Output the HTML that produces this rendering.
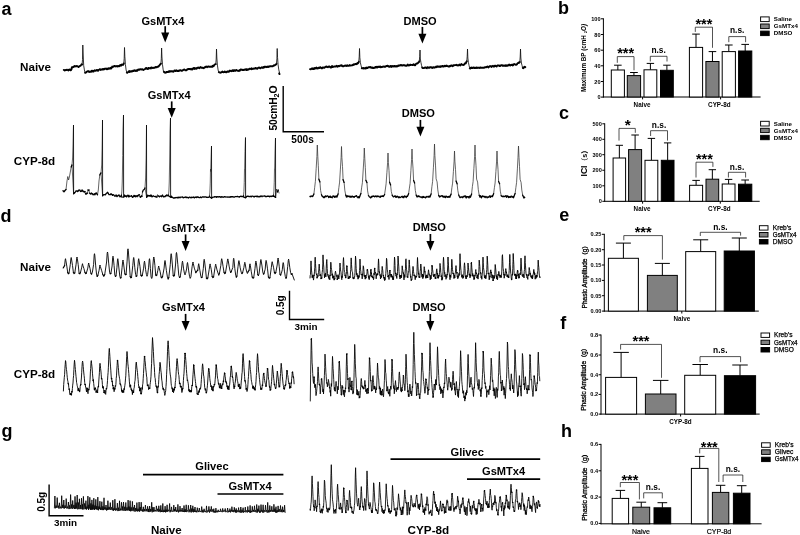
<!DOCTYPE html>
<html lang="en"><head><meta charset="utf-8"><title>Figure</title>
<style>html,body{margin:0;padding:0;background:#fff}svg{display:block}text{font-family:"Liberation Sans", Arial, sans-serif;fill:#000}</style></head><body>
<svg width="800" height="535" viewBox="0 0 800 535">
<rect width="800" height="535" fill="#fff"/>
<text x="1.5" y="14.6" font-size="18" font-weight="bold" text-anchor="start">a</text>
<text x="558.1" y="13.9" font-size="18" font-weight="bold" text-anchor="start">b</text>
<text x="559" y="118.8" font-size="18" font-weight="bold" text-anchor="start">c</text>
<text x="0.5" y="221.7" font-size="18" font-weight="bold" text-anchor="start">d</text>
<text x="559.3" y="221.2" font-size="18" font-weight="bold" text-anchor="start">e</text>
<text x="560.3" y="329.4" font-size="18" font-weight="bold" text-anchor="start">f</text>
<text x="1.5" y="437.1" font-size="18" font-weight="bold" text-anchor="start">g</text>
<text x="561.1" y="436.8" font-size="18" font-weight="bold" text-anchor="start">h</text>
<text x="20.0" y="71.1" font-size="11.65" font-weight="bold" text-anchor="start">Naive</text>
<text x="13.8" y="165.3" font-size="11.65" font-weight="bold" text-anchor="start">CYP-8d</text>
<text x="141.4" y="24.9" font-size="11.05" font-weight="bold" text-anchor="start">GsMTx4</text>
<line x1="165.2" y1="26.2" x2="165.2" y2="33.6" stroke="#000" stroke-width="1.7" stroke-linecap="butt"/>
<polygon points="161.20,32.60 169.20,32.60 165.2,42.4" fill="#000"/>
<text x="147.7" y="98.9" font-size="11.05" font-weight="bold" text-anchor="start">GsMTx4</text>
<line x1="171.7" y1="101.4" x2="171.7" y2="109.0" stroke="#000" stroke-width="1.7" stroke-linecap="butt"/>
<polygon points="167.70,108.00 175.70,108.00 171.7,117.8" fill="#000"/>
<text x="403.5" y="24.9" font-size="11.05" font-weight="bold" text-anchor="start">DMSO</text>
<line x1="422.4" y1="26.9" x2="422.4" y2="34.7" stroke="#000" stroke-width="1.7" stroke-linecap="butt"/>
<polygon points="418.40,33.70 426.40,33.70 422.4,43.5" fill="#000"/>
<text x="401.8" y="117.1" font-size="11.05" font-weight="bold" text-anchor="start">DMSO</text>
<line x1="420.4" y1="119.9" x2="420.4" y2="127.7" stroke="#000" stroke-width="1.7" stroke-linecap="butt"/>
<polygon points="416.40,126.70 424.40,126.70 420.4,136.5" fill="#000"/>
<polyline points="283.2,86 283.2,131.7 324,131.7" fill="none" stroke="#000" stroke-width="1.4"/>
<text x="277" y="130.5" font-size="10.4" font-weight="bold" text-anchor="start" transform="rotate(-90 277 130.5)" letter-spacing="-0.2">50cmH<tspan font-size="7.2" dy="2">2</tspan><tspan dy="-2">O</tspan></text>
<text x="291.3" y="142.7" font-size="10.1" font-weight="bold" text-anchor="start">500s</text>
<path d="M63.8 69.9 L64.3 70.1 L64.8 70.5 L65.3 70.1 L65.8 70.0 L66.3 70.1 L66.8 69.6 L67.4 69.9 L67.9 70.1 L68.4 70.4 L68.9 69.6 L69.4 69.6 L69.9 69.4 L70.4 70.2 L70.9 70.3 L71.4 69.5 L71.9 67.2 L72.4 67.4 L72.9 67.1 L73.5 67.0 L74.0 66.4 L74.5 66.0 L75.0 66.5 L75.5 66.1 L76.0 66.1 L76.5 66.2 L77.0 66.0 L77.5 66.4 L78.0 66.5 L78.5 67.0 L79.0 66.6 L79.6 66.2 L80.1 65.8 L80.6 65.6 L81.1 65.0 L81.6 64.3 L82.1 64.6 M85.1 72.7 L85.6 72.7 L86.1 72.4 L86.6 71.8 L87.1 71.5 L87.6 71.4 L88.1 71.1 L88.6 71.8 L89.1 71.5 L89.6 71.9 L90.1 71.4 L90.6 71.9 L91.1 71.9 L91.6 70.8 L92.1 70.6 L92.6 71.4 L93.1 71.0 L93.6 71.5 L94.1 70.9 L94.6 70.2 L95.2 70.7 L95.7 70.9 L96.2 70.3 L96.7 69.9 L97.2 70.0 L97.7 70.7 L98.2 70.7 L98.7 69.8 L99.2 69.6 L99.7 69.3 L100.2 69.2 L100.7 69.9 L101.2 69.4 L101.7 69.6 L102.2 69.5 L102.7 69.1 L103.2 69.6 L103.7 68.9 L104.2 69.3 L104.7 68.7 L105.2 68.8 L105.7 68.6 L106.2 68.5 L106.7 69.3 L107.2 69.2 L107.7 68.6 L108.2 69.0 L108.7 68.3 L109.2 68.2 L109.7 68.7 L110.2 68.5 L110.7 67.7 L111.2 68.5 L111.7 67.8 L112.2 66.6 L112.7 67.1 L113.2 66.7 L113.7 66.5 L114.3 66.0 L114.8 65.9 L115.3 66.4 L115.8 66.1 L116.3 66.3 L116.8 66.1 L117.3 66.0 L117.8 66.6 L118.3 66.1 L118.8 66.0 L119.3 66.3 L119.8 65.5 L120.3 65.1 L120.8 65.7 L121.3 65.5 L121.8 64.5 L122.3 64.8 L122.8 64.9 L123.3 64.8 L123.8 63.4 M126.8 72.6 L127.3 72.7 L127.8 72.3 L128.3 71.9 L128.8 71.3 L129.3 71.0 L129.8 72.0 L130.3 71.3 L130.8 71.6 L131.3 71.1 L131.8 71.6 L132.3 71.4 L132.8 70.9 L133.3 70.6 L133.8 71.1 L134.3 70.4 L134.8 70.3 L135.3 70.6 L135.8 71.0 L136.3 70.8 L136.8 70.2 L137.3 70.8 L137.8 70.0 L138.3 69.5 L138.8 69.6 L139.3 69.8 L139.8 69.3 L140.3 69.2 L140.8 69.4 L141.3 69.6 L141.8 69.1 L142.3 69.1 L142.8 69.7 L143.3 70.0 L143.8 69.6 L144.4 69.4 L144.9 69.2 L145.4 68.5 L145.9 68.1 L146.4 67.9 L146.9 68.9 L147.4 68.9 L147.9 69.1 L148.4 67.9 L148.9 68.3 L149.4 68.1 L149.9 68.3 L150.4 67.8 L150.9 68.4 L151.4 67.4 L151.9 67.6 L152.4 67.9 L152.9 68.1 L153.4 67.9 L153.9 67.7 L154.4 67.7 L154.9 67.8 L155.4 67.0 L155.9 67.1 L156.4 67.4 L156.9 67.3 L157.4 66.6 L157.9 66.7 L158.4 66.6 L158.9 65.9 L159.4 65.5 L159.9 64.7 L160.4 64.3 L160.9 63.7 M163.9 71.7 L164.4 72.2 L164.9 72.7 L165.4 72.7 L165.9 72.5 L166.4 72.0 L166.9 72.2 L167.4 72.0 L167.9 71.8 L168.4 72.1 L168.9 71.3 L169.4 71.8 L169.9 71.0 L170.5 71.5 L171.0 71.4 L171.5 71.1 L172.0 71.5 L172.5 71.3 L173.0 71.4 L173.5 71.7 L174.0 71.0 L174.5 70.4 L175.0 70.6 L175.5 71.0 L176.0 70.5 L176.5 70.3 L177.0 71.1 L177.5 71.0 L178.0 70.7 L178.5 71.1 L179.0 70.5 L179.5 70.7 L180.0 70.1 L180.5 70.2 L181.0 70.6 L181.5 70.8 L182.0 70.8 L182.5 70.2 L183.0 70.2 L183.6 69.8 L184.1 69.4 L184.6 69.7 L185.1 70.2 L185.6 70.3 L186.1 70.1 L186.6 70.3 L187.1 69.5 L187.6 69.1 L188.1 69.3 L188.6 69.0 L189.1 68.9 L189.6 69.0 L190.1 69.3 L190.6 69.1 L191.1 68.8 L191.6 69.4 L192.1 69.6 L192.6 69.0 L193.1 68.3 L193.6 68.0 L194.1 68.9 L194.6 68.1 L195.1 68.7 L195.6 68.6 L196.1 68.2 L196.7 68.7 L197.2 67.8 L197.7 67.6 L198.2 67.9 L198.7 67.5 L199.2 68.3 L199.7 67.7 L200.2 67.4 L200.7 67.1 L201.2 67.7 L201.7 67.6 L202.2 67.8 L202.7 67.8 L203.2 68.0 L203.7 68.2 L204.2 67.8 L204.7 67.1 L205.2 67.2 L205.7 66.8 L206.2 66.4 L206.7 66.8 L207.2 67.2 L207.7 66.6 L208.2 66.5 L208.7 66.5 L209.2 66.9 L209.8 66.8 L210.3 66.8 L210.8 66.9 L211.3 66.5 L211.8 66.8 L212.3 66.9 L212.8 65.8 L213.3 66.3 L213.8 65.9 L214.3 64.8 L214.8 64.5 L215.3 64.2 L215.8 64.1 M218.8 72.1 L219.3 72.2 L219.8 72.6 L220.3 72.6 L220.8 72.7 L221.3 72.2 L221.8 72.2 L222.3 71.6 L222.8 72.0 L223.3 72.3 L223.8 72.1 L224.3 72.1 L224.8 71.4 L225.3 72.0 L225.8 72.3 L226.3 72.3 L226.8 71.7 L227.3 71.9 L227.8 71.3 L228.3 71.8 L228.8 71.8 L229.3 71.2 L229.8 70.6 L230.3 70.9 L230.8 71.0 L231.3 71.3 L231.8 71.0 L232.3 70.3 L232.8 71.1 L233.4 70.3 L233.9 71.0 L234.4 70.3 L234.9 70.3 L235.4 70.8 L235.9 70.2 L236.4 69.9 L236.9 70.3 L237.4 70.6 L237.9 70.8 L238.4 70.6 L238.9 70.9 L239.4 70.3 L239.9 70.7 L240.4 69.7 L240.9 69.5 L241.4 69.8 L241.9 69.6 L242.4 70.0 L242.9 70.0 L243.4 69.8 L243.9 70.1 L244.4 69.8 L244.9 69.4 L245.4 69.3 L245.9 69.8 L246.4 70.0 L246.9 69.1 L247.4 69.6 L247.9 69.9 L248.4 69.4 L248.9 69.3 L249.4 68.7 L249.9 68.9 L250.4 68.9 L250.9 69.0 L251.4 68.3 L251.9 69.2 L252.4 68.8 L252.9 68.6 L253.4 68.9 L253.9 68.7 L254.4 68.5 L254.9 68.7 L255.4 67.9 L255.9 68.2 L256.4 68.1 L256.9 68.7 L257.4 68.8 L257.9 68.0 L258.4 67.9 L258.9 67.5 L259.4 67.7 L259.9 68.2 L260.4 68.4 L260.9 67.9 L261.4 67.5 L261.9 67.2 L262.5 67.6 L263.0 68.0 L263.5 67.1 L264.0 67.6 L264.5 66.8 L265.0 66.7 L265.5 66.7 L266.0 67.2 L266.5 66.9 L267.0 66.8 L267.5 67.0 L268.0 66.4 L268.5 67.0 L269.0 66.4 L269.5 66.6 L270.0 66.3 L270.5 66.1 L271.0 66.4 L271.5 66.4 L272.0 66.2 L272.5 66.2 L273.0 66.2 L273.5 65.6 L274.0 65.3 L274.5 65.5 L275.0 65.2 L275.5 64.7 L276.0 64.6 L276.5 63.8 M279.5 74.1 L279.2 73.3" fill="none" stroke="#000" stroke-width="1.9" stroke-linejoin="round" stroke-linecap="round"/>
<path d="M82.10 64.6 L82.50 59.6 L82.75 47.0 L82.80 45.0 L83.15 54.0 L83.70 65.6 L84.40 69.9 L85.10 72.7 M123.80 63.4 L124.20 58.4 L124.45 49.5 L124.50 47.5 L124.85 56.5 L125.40 64.4 L126.10 69.9 L126.80 72.7 M160.90 63.7 L161.30 58.7 L161.55 50.0 L161.60 48.0 L161.95 57.0 L162.50 64.7 L163.20 69.9 L163.90 72.7 M215.80 64.1 L216.20 59.1 L216.45 51.0 L216.50 49.0 L216.85 58.0 L217.40 65.1 L218.10 69.9 L218.80 72.7 M276.50 63.8 L276.90 58.8 L277.15 50.5 L277.20 48.5 L277.55 57.5 L278.10 64.8 L278.80 69.9 L279.50 72.7" fill="none" stroke="#111" stroke-width="0.85" stroke-linejoin="round" stroke-linecap="round"/>
<path d="M310.0 69.1 L310.5 69.2 L311.0 69.3 L311.5 68.6 L312.0 68.4 L312.5 69.0 L313.0 68.3 L313.5 69.0 L314.0 69.1 L314.5 68.1 L315.0 67.9 L315.5 68.4 L316.0 68.0 L316.5 67.6 L317.0 68.4 L317.5 68.1 L318.0 68.4 L318.6 67.6 L319.1 67.7 L319.6 68.1 L320.1 67.3 L320.6 67.3 L321.1 67.8 L321.6 68.3 L322.1 68.4 L322.6 67.4 L323.1 67.5 L323.6 67.8 L324.1 67.6 L324.6 67.7 L325.1 67.1 L325.6 66.7 L326.1 66.6 L326.6 66.5 L327.1 67.0 L327.6 67.1 L328.1 67.2 L328.6 66.7 L329.1 66.5 L329.6 66.5 L330.1 67.2 L330.6 67.6 L331.1 67.6 L331.6 66.5 L332.1 66.1 L332.6 67.1 L333.1 66.7 L333.6 66.9 L334.1 66.4 L334.7 66.4 L335.2 66.5 L335.7 66.3 L336.2 66.5 L336.7 65.8 L337.2 66.4 L337.7 66.7 L338.2 65.9 L338.7 66.0 L339.2 66.3 L339.7 66.0 L340.2 65.6 L340.7 65.4 L341.2 65.8 L341.7 65.2 L342.2 66.1 L342.7 66.2 L343.2 66.1 L343.7 66.2 L344.2 65.9 L344.7 65.6 L345.2 65.6 L345.7 65.5 L346.2 66.0 L346.7 65.9 L347.2 65.2 L347.7 65.8 L348.2 65.7 L348.7 65.7 L349.2 65.7 L349.7 65.1 L350.2 65.6 L350.8 65.6 L351.3 65.4 L351.8 65.4 L352.3 65.3 L352.8 64.8 L353.3 65.1 L353.8 64.3 L354.3 64.4 L354.8 64.5 L355.3 63.9 L355.8 64.0 L356.3 64.2 L356.8 64.0 L357.3 63.1 L357.8 63.4 L358.3 62.8 L358.8 61.8 M361.8 68.3 L362.3 68.2 L362.8 68.1 L363.3 67.9 L363.8 68.6 L364.3 68.3 L364.8 68.3 L365.3 68.3 L365.8 68.6 L366.3 67.5 L366.8 67.8 L367.3 68.1 L367.8 67.5 L368.3 67.5 L368.8 67.1 L369.3 67.1 L369.8 67.3 L370.3 67.0 L370.8 67.1 L371.3 67.9 L371.8 67.7 L372.3 67.5 L372.8 68.0 L373.3 67.7 L373.8 68.1 L374.3 67.7 L374.8 67.8 L375.3 66.9 L375.8 67.3 L376.3 67.5 L376.8 66.7 L377.3 67.5 L377.8 66.8 L378.3 67.0 L378.8 66.6 L379.3 66.9 L379.8 67.1 L380.3 66.4 L380.8 67.3 L381.3 66.9 L381.8 66.9 L382.3 67.0 L382.8 66.7 L383.3 66.5 L383.8 66.8 L384.3 66.8 L384.8 66.4 L385.3 66.8 L385.8 66.4 L386.3 65.9 L386.8 66.0 L387.3 65.8 L387.8 65.8 L388.3 66.6 L388.8 66.3 L389.3 66.8 L389.8 66.8 L390.3 65.9 L390.8 66.7 L391.3 66.9 L391.8 65.9 L392.3 66.6 L392.8 66.2 L393.3 66.1 L393.8 66.6 L394.3 65.9 L394.8 66.0 L395.3 66.5 L395.8 66.4 L396.3 66.0 L396.8 66.5 L397.3 66.4 L397.8 66.1 L398.3 65.4 L398.8 65.7 L399.3 65.6 L399.8 65.3 L400.3 64.9 L400.8 65.4 L401.3 65.0 L401.8 65.3 L402.3 65.6 L402.8 65.4 L403.3 65.1 L403.8 65.4 L404.3 65.2 L404.8 65.6 L405.3 65.4 L405.8 65.9 L406.3 65.9 L406.8 65.7 L407.3 64.9 L407.8 64.6 L408.3 65.4 L408.8 65.5 L409.3 65.3 L409.8 64.8 L410.3 64.6 L410.8 65.0 L411.3 64.9 L411.8 64.9 L412.3 65.0 L412.8 65.1 L413.3 64.4 L413.8 64.3 L414.3 65.1 L414.8 65.2 L415.3 65.2 L415.8 64.1 L416.3 63.6 L416.8 63.5 L417.3 63.5 L417.8 63.4 L418.3 62.5 L418.8 62.4 L419.3 61.3 M422.3 67.5 L422.8 68.1 L423.3 68.1 L423.8 68.1 L424.3 67.8 L424.8 67.8 L425.3 67.5 L425.8 67.5 L426.3 68.0 L426.8 68.2 L427.3 67.3 L427.8 67.1 L428.3 67.8 L428.8 67.8 L429.3 67.9 L429.8 67.3 L430.3 67.3 L430.8 67.1 L431.3 67.7 L431.8 67.3 L432.3 67.5 L432.8 67.9 L433.3 67.2 L433.8 67.2 L434.3 67.5 L434.8 67.7 L435.3 67.1 L435.8 66.9 L436.3 66.4 L436.8 67.2 L437.3 66.5 L437.8 66.2 L438.3 66.7 L438.8 66.7 L439.3 66.9 L439.8 66.5 L440.3 66.9 L440.8 66.2 L441.3 66.1 L441.8 66.6 L442.3 66.0 L442.8 66.0 L443.3 66.5 L443.8 66.6 L444.3 66.1 L444.8 65.7 L445.3 65.9 L445.8 66.3 L446.3 66.0 L446.8 65.6 L447.3 66.1 L447.8 66.1 L448.3 66.5 L448.8 66.6 L449.3 66.6 L449.8 65.9 L450.3 66.2 L450.8 65.6 L451.3 65.4 L451.8 65.4 L452.3 66.1 L452.8 66.2 L453.3 65.4 L453.8 65.2 L454.3 65.2 L454.8 65.1 L455.3 65.1 L455.8 65.1 L456.3 64.8 L456.8 65.1 L457.3 65.5 L457.8 65.2 L458.3 65.5 L458.8 65.2 L459.3 64.6 L459.8 65.1 L460.3 65.4 L460.8 64.7 L461.3 64.1 L461.8 64.6 L462.3 64.7 L462.8 64.7 L463.3 65.1 L463.8 64.7 L464.3 64.6 L464.8 63.4 L465.3 63.3 L465.8 63.3 L466.3 62.1 L466.8 61.3 M469.8 68.4 L470.3 68.6 L470.8 67.7 L471.3 68.0 L471.8 67.5 L472.3 68.1 L472.8 68.1 L473.3 67.6 L473.8 67.4 L474.3 68.0 L474.9 67.8 L475.4 68.1 L475.9 67.7 L476.4 67.4 L476.9 68.1 L477.4 67.9 L477.9 67.6 L478.4 67.6 L478.9 67.8 L479.4 67.8 L479.9 68.0 L480.4 67.4 L480.9 67.7 L481.4 67.6 L481.9 67.8 L482.4 67.7 L482.9 67.7 L483.4 67.8 L483.9 67.9 L484.4 67.5 L485.0 67.2 L485.5 67.3 L486.0 67.4 L486.5 67.0 L487.0 66.8 L487.5 66.4 L488.0 67.0 L488.5 67.4 L489.0 66.8 L489.5 66.3 L490.0 66.2 L490.5 66.4 L491.0 66.2 L491.5 67.0 L492.0 66.1 L492.5 66.1 L493.0 65.8 L493.5 66.4 L494.0 66.7 L494.5 66.0 L495.1 65.6 L495.6 66.0 L496.1 66.2 L496.6 66.6 L497.1 65.7 L497.6 65.4 L498.1 65.4 L498.6 65.5 L499.1 65.5 L499.6 66.0 L500.1 66.0 L500.6 65.5 L501.1 65.3 L501.6 65.3 L502.1 65.2 L502.6 65.8 L503.1 65.4 L503.6 65.6 L504.1 65.9 L504.6 65.6 L505.2 65.2 L505.7 65.8 L506.2 66.0 L506.7 65.3 L507.2 65.3 L507.7 65.8 L508.2 65.4 L508.7 64.9 L509.2 64.5 L509.7 65.4 L510.2 65.5 L510.7 65.0 L511.2 65.0 L511.7 65.0 L512.2 64.6 L512.7 65.4 L513.2 65.1 L513.7 64.5 L514.2 64.0 L514.7 64.4 L515.3 64.4 L515.8 64.9 L516.3 64.8 L516.8 64.5 L517.3 63.7 L517.8 63.2 L518.3 63.0 L518.8 62.5 L519.3 62.8 L519.8 62.0 M522.8 67.8 L523.3 68.2 L523.8 67.3 L524.3 67.3 L524.8 66.7 L525.3 67.2" fill="none" stroke="#000" stroke-width="1.9" stroke-linejoin="round" stroke-linecap="round"/>
<path d="M358.80 61.8 L359.20 56.8 L359.45 50.5 L359.50 48.5 L359.85 57.5 L360.40 62.8 L361.10 65.7 L361.80 68.5 M419.30 61.3 L419.70 56.3 L419.95 52.0 L420.00 50.0 L420.35 59.0 L420.90 62.3 L421.60 65.7 L422.30 68.5 M466.80 61.3 L467.20 56.3 L467.45 51.0 L467.50 49.0 L467.85 58.0 L468.40 62.3 L469.10 65.7 L469.80 68.5 M519.80 62.0 L520.20 57.0 L520.45 51.0 L520.50 49.0 L520.85 58.0 L521.40 63.0 L522.10 65.7 L522.80 68.5" fill="none" stroke="#111" stroke-width="0.85" stroke-linejoin="round" stroke-linecap="round"/>
<path d="M66.0 189.5 L67.0 181.0 L67.8 176.5 L68.6 180.0 L69.4 177.0 L70.3 172.0 L71.2 167.0 M72.0 165.0 L73.6 193.7 M85.0 191.5 L85.5 193.7 M87.5 193.1 L88.0 190.0 M89.0 190.0 L89.5 193.2 M97.5 194.7 L98.3 190.0 L99.0 181.0 L99.8 175.0 M101.0 173.0 L102.6 195.8 M121.5 195.0 L121.5 196.8 M124.4 196.3 L124.5 195.1 M128.0 195.2 L128.5 196.8 M139.5 194.9 L140.0 196.7 M142.0 196.3 L142.5 192.0 M145.0 188.0 L146.6 197.2 M147.4 196.3 L147.5 195.3 M151.5 195.3 L152.0 196.8 M157.0 197.1 L157.5 194.6 L158.0 196.1 M168.5 195.0 L168.5 195.7 M171.4 196.3 L171.5 197.4 M209.5 196.1 L209.5 196.8 M243.5 195.6 L243.5 196.9 M246.4 196.9 L246.5 196.5 M273.5 195.2 L273.5 195.9 M275.6 197.4 L276.6 189.0 L277.4 192.0 M278.2 190.0 L279.0 193.0" fill="none" stroke="#222" stroke-width="0.7" stroke-linejoin="round" stroke-linecap="round"/>
<path d="M63.0 190.7 L64.0 191.8 L65.0 190.5 L66.0 189.5 M71.2 167.0 L72.0 165.0 M73.6 193.7 L74.4 192.8 L74.5 193.1 L75.0 192.4 L75.5 191.8 L76.0 190.9 L76.5 190.9 L77.0 191.1 L77.5 191.5 L78.0 190.7 L78.5 191.0 L79.0 189.8 L79.5 190.0 L80.0 190.2 L80.5 191.4 L81.0 191.5 L81.5 191.2 L82.0 189.9 L82.5 190.5 L83.0 191.5 L83.5 191.1 L84.0 191.9 L84.5 192.1 L85.0 191.5 M85.5 193.7 L86.0 194.3 L86.5 193.1 L87.0 193.6 L87.5 193.1 M88.0 190.0 L88.5 190.4 L89.0 190.0 M89.5 193.2 L90.0 193.3 L90.5 194.0 L91.0 193.3 L91.5 193.0 L92.0 194.1 L92.5 193.6 L93.0 194.8 L93.5 194.3 L94.0 194.6 L94.5 193.8 L95.0 194.7 L95.5 193.4 L96.0 193.1 L96.5 193.0 L97.0 194.2 L97.5 194.7 M99.8 175.0 L100.5 173.5 L101.0 173.0 M102.6 195.8 L103.4 194.9 L103.5 194.7 L104.0 194.7 L104.5 194.7 L105.0 194.8 L105.5 194.8 L106.0 193.7 L106.5 193.2 L107.0 193.1 L107.5 192.2 L108.0 192.8 L108.5 193.7 L109.0 194.7 L109.5 194.7 L110.0 194.6 L110.5 194.7 L111.0 193.6 L111.5 194.2 L112.0 194.7 L112.5 195.4 L113.0 194.5 L113.5 194.8 L114.0 195.2 L114.5 196.0 L115.0 196.3 L115.5 196.0 L116.0 194.9 L116.5 195.9 L117.0 196.6 L117.5 196.0 L118.0 195.5 L118.5 195.6 L119.0 194.9 L119.5 196.0 L120.0 196.9 L120.5 196.2 L121.0 196.4 L121.5 195.0 M121.5 196.8 L123.6 197.2 L124.4 196.3 M124.5 195.1 L125.0 195.9 L125.5 196.4 L126.0 195.8 L126.5 196.9 L127.0 196.0 L127.5 195.9 L128.0 195.2 M128.5 196.8 L129.0 195.4 L129.5 196.7 L130.0 196.3 L130.5 196.2 L131.0 196.2 L131.5 195.6 L132.0 196.7 L132.5 197.3 L133.0 197.1 L133.5 196.5 L134.0 195.3 L134.5 196.5 L135.0 195.7 L135.5 196.8 L136.0 195.7 L136.5 196.1 L137.0 196.7 L137.5 195.5 L138.0 196.0 L138.5 195.1 L139.0 194.7 L139.5 194.9 M140.0 196.7 L140.5 197.2 L141.0 196.7 L141.5 195.8 L142.0 196.3 M142.5 192.0 L143.3 190.0 L144.2 189.5 L145.0 188.0 M146.6 197.2 L147.4 196.3 M147.5 195.3 L148.0 195.8 L148.5 195.4 L149.0 196.0 L149.5 195.6 L150.0 196.2 L150.5 195.1 L151.0 196.1 L151.5 195.3 M152.0 196.8 L152.5 196.4 L153.0 196.1 L153.5 195.8 L154.0 196.2 L154.5 196.5 L155.0 196.7 L155.5 196.8 L156.0 196.2 L156.5 197.1 L157.0 197.1 M158.0 196.1 L158.5 195.9 L159.0 196.1 L159.5 196.9 L160.0 196.3 L160.5 196.2 L161.0 195.9 L161.5 196.8 L162.0 195.9 L162.5 195.0 L163.0 196.2 L163.5 196.9 L164.0 196.8 L164.5 196.4 L165.0 196.7 L165.5 195.8 L166.0 196.1 L166.5 195.1 L167.0 194.9 L167.5 195.6 L168.0 195.9 L168.5 195.0 M168.5 195.7 L170.6 197.2 L171.4 196.3 M171.5 197.4 L172.0 197.3 L172.5 197.1 L173.0 197.8 L173.5 198.1 L174.0 197.9 L174.5 198.0 L175.0 197.6 L175.5 197.9 L176.0 197.4 L176.5 197.7 L177.0 197.6 L177.5 197.9 L178.0 197.2 L178.5 197.7 L179.0 197.2 L179.5 197.4 L180.0 197.9 L180.5 197.1 L181.0 197.1 L181.5 197.2 L182.0 197.2 L182.5 196.9 L183.0 197.7 L183.5 197.8 L184.0 197.4 L184.5 197.3 L185.0 197.5 L185.5 197.0 L186.0 196.8 L186.5 197.6 L187.0 197.3 L187.5 197.3 L188.0 197.8 L188.5 198.0 L189.0 197.5 L189.5 197.1 L190.0 197.1 L190.5 197.7 L191.0 197.8 L191.5 197.2 L192.0 197.6 L192.5 197.3 L193.0 197.3 L193.5 197.0 L194.0 197.6 L194.5 197.9 L195.0 197.2 L195.5 197.4 L196.0 197.0 L196.5 197.6 L197.0 196.9 L197.5 196.8 L198.0 197.3 L198.5 197.1 L199.0 197.6 L199.5 197.7 L200.0 197.6 L200.5 197.0 L201.0 197.3 L201.5 197.7 L202.0 197.3 L202.5 196.8 L203.0 196.8 L203.5 196.9 L204.0 197.3 L204.5 196.9 L205.0 196.8 L205.5 196.8 L206.0 197.2 L206.5 197.4 L207.0 197.1 L207.5 197.3 L208.0 197.5 L208.5 197.3 L209.0 196.9 L209.5 196.1 M209.5 196.8 L211.6 198.3 L212.4 197.4 L212.5 197.4 L213.0 197.1 L213.5 197.1 L214.0 197.1 L214.5 196.6 L215.0 197.0 L215.5 196.8 L216.0 196.7 L216.5 197.2 L217.0 196.7 L217.5 196.7 L218.0 197.1 L218.5 196.8 L219.0 196.7 L219.5 196.9 L220.0 196.6 L220.5 197.2 L221.0 197.5 L221.5 196.7 L222.0 196.8 L222.5 197.1 L223.0 196.9 L223.5 197.3 L224.0 197.0 L224.5 196.6 L225.0 196.9 L225.5 197.0 L226.0 196.8 L226.5 197.0 L227.0 197.2 L227.5 197.0 L228.0 196.9 L228.5 197.2 L229.0 197.1 L229.5 196.9 L230.0 197.3 L230.5 196.7 L231.0 197.0 L231.5 196.6 L232.0 196.8 L232.5 196.6 L233.0 196.7 L233.5 197.0 L234.0 197.1 L234.5 197.2 L235.0 196.6 L235.5 196.7 L236.0 196.5 L236.5 196.7 L237.0 196.7 L237.5 196.3 L238.0 196.7 L238.5 196.9 L239.0 196.8 L239.5 197.1 L240.0 196.5 L240.5 196.3 L241.0 196.1 L241.5 196.5 L242.0 196.6 L242.5 196.6 L243.0 196.4 L243.5 195.6 M243.5 196.9 L245.6 197.8 L246.4 196.9 M246.5 196.5 L247.0 196.2 L247.5 196.3 L248.0 196.1 L248.5 196.3 L249.0 196.6 L249.5 196.6 L250.0 196.4 L250.5 196.6 L251.0 196.2 L251.5 196.7 L252.0 196.3 L252.5 196.2 L253.0 196.1 L253.5 196.6 L254.0 196.9 L254.5 196.9 L255.0 196.2 L255.5 196.3 L256.0 196.3 L256.5 196.2 L257.0 196.8 L257.5 196.1 L258.0 196.4 L258.5 196.7 L259.0 197.0 L259.5 196.3 L260.0 196.3 L260.5 196.6 L261.0 196.0 L261.5 196.1 L262.0 196.7 L262.5 196.1 L263.0 196.2 L263.5 196.1 L264.0 196.2 L264.5 195.9 L265.0 195.8 L265.5 196.7 L266.0 196.7 L266.5 196.7 L267.0 196.2 L267.5 196.1 L268.0 196.3 L268.5 196.1 L269.0 196.2 L269.5 196.7 L270.0 196.3 L270.5 196.1 L271.0 196.7 L271.5 196.5 L272.0 195.9 L272.5 196.1 L273.0 196.4 L273.5 195.2 M273.5 195.9 L275.6 197.4 M277.4 192.0 L278.2 190.0" fill="none" stroke="#000" stroke-width="1.3" stroke-linejoin="round" stroke-linecap="round"/>
<path d="M72.00 165.0 L72.60 158.0 L73.00 145.0 L73.30 131.0 L73.50 125.0" fill="none" stroke="#333" stroke-width="0.75" stroke-linejoin="round"/>
<path d="M101.00 173.0 L101.70 165.0 L102.10 148.0 L102.40 128.0 L102.50 120.0" fill="none" stroke="#333" stroke-width="0.75" stroke-linejoin="round"/>
<path d="M121.50 195.0 L121.90 191.0 L122.25 182.0 L122.50 168.0 L122.70 155.5 L123.00 129.0 L123.35 118.0 L123.50 115.0" fill="none" stroke="#333" stroke-width="0.75" stroke-linejoin="round"/>
<path d="M145.00 188.0 L145.60 178.0 L146.10 158.0 L146.40 135.0 L146.50 125.0" fill="none" stroke="#333" stroke-width="0.75" stroke-linejoin="round"/>
<path d="M168.50 195.0 L168.90 191.0 L169.25 182.0 L169.50 168.0 L169.70 157.0 L170.00 132.0 L170.35 121.0 L170.50 118.0" fill="none" stroke="#333" stroke-width="0.75" stroke-linejoin="round"/>
<path d="M209.50 196.1 L209.90 192.1 L210.25 183.1 L210.50 169.1 L210.70 171.5 L211.00 160.0 L211.35 149.0 L211.50 146.0" fill="none" stroke="#333" stroke-width="0.75" stroke-linejoin="round"/>
<path d="M243.50 195.6 L243.90 191.6 L244.25 182.6 L244.50 168.6 L244.70 167.1 L245.00 151.5 L245.35 140.5 L245.50 137.5" fill="none" stroke="#333" stroke-width="0.75" stroke-linejoin="round"/>
<path d="M273.50 195.2 L273.90 191.2 L274.25 182.2 L274.50 168.2 L274.70 167.1 L275.00 152.0 L275.35 141.0 L275.50 138.0" fill="none" stroke="#333" stroke-width="0.75" stroke-linejoin="round"/>
<path d="M73.50 125.0 L73.62 193.7" fill="none" stroke="#000" stroke-width="0.85"/>
<path d="M102.50 120.0 L102.62 195.8" fill="none" stroke="#000" stroke-width="0.85"/>
<path d="M123.50 115.0 L123.62 197.2" fill="none" stroke="#000" stroke-width="0.85"/>
<path d="M146.50 125.0 L146.62 197.2" fill="none" stroke="#000" stroke-width="0.85"/>
<path d="M170.50 118.0 L170.62 197.2" fill="none" stroke="#000" stroke-width="0.85"/>
<path d="M211.50 146.0 L211.62 198.3" fill="none" stroke="#000" stroke-width="0.85"/>
<path d="M245.50 137.5 L245.62 197.8" fill="none" stroke="#000" stroke-width="0.85"/>
<path d="M275.50 138.0 L275.62 197.4" fill="none" stroke="#000" stroke-width="0.85"/>
<path d="M313.9 194.0 L314.7 187.3 L315.4 181.3 L316.2 168.3 L316.9 156.4 L317.3 145.0 L317.8 156.4 L318.3 165.7 L318.9 179.2 M319.9 181.9 L320.6 190.4 L321.5 194.8 M330.3 196.1 L330.7 197.4 M332.3 197.7 L332.7 196.2 M333.9 195.9 L334.3 197.2 M336.7 196.2 L336.9 197.1 M338.1 193.9 L338.9 187.4 L339.6 182.1 L340.4 169.1 L341.1 157.6 L341.5 146.5 L341.9 157.6 L342.5 166.6 L343.1 179.7 M344.1 182.4 L344.8 190.2 L345.7 195.0 M346.5 197.0 L346.9 195.8 M359.7 196.5 L359.7 196.4 M360.9 193.5 L361.7 187.2 L362.4 182.7 L363.2 170.0 L363.9 158.7 L364.3 148.0 L364.8 158.7 L365.3 167.5 L365.9 180.3 M366.9 182.6 L367.6 190.9 L368.5 195.7 M384.6 194.5 L385.4 189.0 L386.1 183.8 L386.9 172.7 L387.6 162.6 L388.0 153.0 L388.4 162.6 L389.0 170.5 L389.6 182.2 M390.6 184.9 L391.3 191.5 L392.2 195.2 M403.8 197.6 L404.2 196.2 M407.4 196.1 L407.4 196.5 M408.6 193.7 L409.4 188.1 L410.1 183.3 L410.9 170.5 L411.6 159.5 L412.0 149.0 L412.4 159.5 L413.0 168.1 L413.6 180.5 M414.6 183.0 L415.3 190.4 L416.2 195.1 M425.8 197.7 L426.2 196.4 M429.8 196.2 L429.9 197.0 M431.1 193.9 L431.9 186.7 L432.6 181.4 L433.4 167.8 L434.1 155.6 L434.5 144.0 L434.9 155.6 L435.5 165.1 L436.1 178.8 L437.1 181.9 L437.8 189.9 L438.7 195.4 M445.5 197.6 L445.9 196.2 M449.9 197.2 L449.9 196.6 M451.1 194.1 L451.9 187.7 L452.6 183.1 L453.4 171.6 L454.1 161.1 L454.5 151.0 L454.9 161.1 L455.5 169.3 L456.1 181.1 M457.1 183.8 L457.8 190.4 L458.7 195.0 M462.7 197.6 L463.1 196.3 M466.3 197.9 L466.7 196.5 M469.1 197.9 L469.5 196.3 M470.3 196.2 L470.4 197.2 M471.6 194.0 L472.4 186.5 L473.1 181.6 L473.9 168.3 L474.6 156.4 L475.0 145.0 L475.4 156.4 L476.0 165.7 L476.6 179.1 L477.6 182.1 L478.3 189.7 L479.2 195.3 M480.0 197.1 L480.4 195.8 M481.6 197.8 L482.0 196.4 M490.0 195.9 L490.4 197.3 M492.4 195.7 L492.4 196.7 M493.6 193.7 L494.4 187.7 L495.1 183.0 L495.9 171.6 L496.6 161.1 L497.0 151.0 L497.4 161.1 L498.0 169.3 L498.6 181.5 M499.6 183.7 L500.3 191.1 L501.2 195.7 M506.0 195.7 L506.4 197.2 M513.6 197.7 L513.9 196.5 M515.1 193.6 L515.9 187.4 L516.6 182.3 L517.4 168.9 L518.0 157.2 L518.5 146.0 L519.0 157.2 L519.5 166.3 L520.1 179.3 L521.1 182.5 L521.8 190.1 L522.7 195.2" fill="none" stroke="#333" stroke-width="0.75" stroke-linejoin="round" stroke-linecap="round"/>
<path d="M310.0 196.5 L310.4 196.1 L310.8 196.7 L311.2 196.1 L311.6 196.1 L312.0 196.0 L312.4 196.5 L312.7 196.6 L313.9 194.0 M318.9 179.2 L319.9 181.9 M321.5 194.8 L322.3 196.6 L322.7 196.4 L323.1 196.6 L323.5 197.6 L323.9 197.4 L324.3 197.6 L324.7 196.5 L325.1 196.5 L325.5 195.9 L325.9 196.9 L326.3 196.6 L326.7 196.3 L327.1 195.8 L327.5 195.9 L327.9 196.1 L328.3 196.4 L328.7 197.5 L329.1 197.4 L329.5 196.6 L329.9 196.5 L330.3 196.1 M330.7 197.4 L331.1 196.7 L331.5 197.3 L331.9 197.4 L332.3 197.7 M332.7 196.2 L333.1 196.3 L333.5 196.4 L333.9 195.9 M334.3 197.2 L334.7 196.6 L335.1 197.2 L335.5 197.0 L335.9 196.0 L336.3 196.4 L336.7 196.2 M336.9 197.1 L338.1 193.9 M343.1 179.7 L344.1 182.4 M345.7 195.0 L346.5 197.0 M346.9 195.8 L347.3 195.8 L347.7 196.7 L348.1 195.9 L348.5 196.2 L348.9 196.5 L349.3 196.8 L349.7 196.1 L350.1 197.0 L350.5 196.4 L350.9 197.1 L351.3 197.2 L351.7 196.3 L352.1 196.1 L352.5 196.2 L352.9 197.0 L353.3 196.7 L353.7 196.6 L354.1 197.4 L354.5 196.5 L354.9 196.3 L355.3 196.4 L355.7 196.1 L356.1 195.8 L356.5 195.6 L356.9 196.7 L357.3 196.9 L357.7 197.4 L358.1 197.9 L358.5 196.7 L358.9 197.1 L359.3 197.7 L359.7 196.5 M359.7 196.4 L360.9 193.5 M365.9 180.3 L366.9 182.6 M368.5 195.7 L369.3 196.7 L369.7 197.1 L370.1 197.2 L370.5 197.8 L370.9 197.8 L371.3 196.6 L371.7 197.0 L372.1 196.1 L372.5 196.5 L372.9 196.5 L373.3 195.9 L373.7 196.3 L374.1 196.3 L374.5 196.7 L374.9 196.3 L375.3 196.0 L375.7 196.4 L376.1 196.6 L376.5 196.1 L376.9 196.9 L377.3 196.4 L377.7 195.9 L378.1 196.2 L378.5 196.5 L378.9 196.1 L379.3 196.7 L379.7 197.2 L380.1 197.0 L380.5 197.2 L380.9 196.0 L381.3 196.4 L381.7 196.4 L382.1 195.9 L382.5 196.3 L382.9 195.8 L383.3 196.5 L383.4 196.5 L384.6 194.5 M389.6 182.2 L390.6 184.9 M392.2 195.2 L393.0 196.4 L393.4 196.9 L393.8 196.8 L394.2 196.5 L394.6 196.2 L395.0 195.8 L395.4 196.2 L395.8 197.3 L396.2 197.1 L396.6 196.4 L397.0 197.0 L397.4 196.3 L397.8 196.6 L398.2 196.9 L398.6 197.7 L399.0 196.8 L399.4 196.9 L399.8 197.7 L400.2 197.6 L400.6 197.3 L401.0 197.2 L401.4 196.7 L401.8 196.6 L402.2 196.3 L402.6 197.3 L403.0 197.6 L403.4 196.8 L403.8 197.6 M404.2 196.2 L404.6 195.9 L405.0 196.6 L405.4 196.4 L405.8 196.4 L406.2 197.6 L406.6 196.4 L407.0 196.1 L407.4 196.1 M407.4 196.5 L408.6 193.7 M413.6 180.5 L414.6 183.0 M416.2 195.1 L417.0 196.9 L417.4 196.9 L417.8 196.3 L418.2 195.7 L418.6 196.6 L419.0 196.5 L419.4 196.2 L419.8 196.6 L420.2 197.0 L420.6 197.0 L421.0 197.1 L421.4 197.0 L421.8 197.5 L422.2 197.9 L422.6 196.8 L423.0 196.5 L423.4 197.4 L423.8 196.6 L424.2 197.2 L424.6 197.3 L425.0 197.3 L425.4 197.8 L425.8 197.7 M426.2 196.4 L426.6 196.9 L427.0 196.8 L427.4 196.9 L427.8 196.6 L428.2 196.3 L428.6 197.1 L429.0 197.0 L429.4 196.4 L429.8 196.2 M429.9 197.0 L431.1 193.9 M438.7 195.4 L439.5 197.0 L439.9 196.3 L440.3 196.1 L440.7 196.6 L441.1 196.0 L441.5 195.8 L441.9 195.7 L442.3 195.7 L442.7 196.9 L443.1 196.1 L443.5 196.5 L443.9 197.2 L444.3 196.9 L444.7 196.2 L445.1 197.3 L445.5 197.6 M445.9 196.2 L446.3 196.2 L446.7 196.6 L447.1 197.3 L447.5 196.7 L447.9 197.2 L448.3 196.5 L448.7 197.1 L449.1 196.6 L449.5 196.4 L449.9 197.2 M449.9 196.6 L451.1 194.1 M456.1 181.1 L457.1 183.8 M458.7 195.0 L459.5 196.7 L459.9 197.5 L460.3 197.6 L460.7 197.2 L461.1 196.8 L461.5 197.2 L461.9 197.1 L462.3 197.5 L462.7 197.6 M463.1 196.3 L463.5 196.4 L463.9 197.0 L464.3 196.4 L464.7 196.1 L465.1 195.7 L465.5 196.6 L465.9 197.6 L466.3 197.9 M466.7 196.5 L467.1 197.0 L467.5 196.7 L467.9 197.0 L468.3 196.7 L468.7 197.6 L469.1 197.9 M469.5 196.3 L469.9 197.0 L470.3 196.2 M470.4 197.2 L471.6 194.0 M479.2 195.3 L480.0 197.1 M480.4 195.8 L480.8 196.1 L481.2 197.0 L481.6 197.8 M482.0 196.4 L482.4 196.4 L482.8 195.8 L483.2 196.6 L483.6 196.7 L484.0 196.5 L484.4 196.4 L484.8 197.2 L485.2 197.6 L485.6 196.6 L486.0 196.5 L486.4 196.9 L486.8 197.3 L487.2 197.8 L487.6 196.9 L488.0 197.2 L488.4 197.0 L488.8 197.4 L489.2 196.3 L489.6 196.1 L490.0 195.9 M490.4 197.3 L490.8 196.5 L491.2 196.7 L491.6 196.1 L492.0 196.3 L492.4 195.7 M492.4 196.7 L493.6 193.7 M498.6 181.5 L499.6 183.7 M501.2 195.7 L502.0 196.4 L502.4 196.6 L502.8 196.1 L503.2 196.8 L503.6 196.4 L504.0 196.2 L504.4 196.6 L504.8 196.5 L505.2 196.3 L505.6 195.8 L506.0 195.7 M506.4 197.2 L506.8 196.6 L507.2 196.0 L507.6 196.0 L508.0 196.5 L508.4 197.6 L508.8 196.5 L509.2 197.4 L509.6 196.9 L510.0 196.7 L510.4 197.3 L510.8 196.8 L511.2 196.0 L511.6 196.6 L512.0 197.0 L512.4 197.1 L512.8 196.5 L513.2 197.5 L513.6 197.7 M513.9 196.5 L515.1 193.6 M522.7 195.2 L523.5 197.1 L523.9 198.0 L524.3 197.0 L524.7 197.5" fill="none" stroke="#000" stroke-width="1.3" stroke-linejoin="round" stroke-linecap="round"/>
<text x="20.0" y="271.2" font-size="11.65" font-weight="bold" text-anchor="start">Naive</text>
<text x="13.8" y="378.1" font-size="11.65" font-weight="bold" text-anchor="start">CYP-8d</text>
<text x="162.3" y="231.5" font-size="11.05" font-weight="bold" text-anchor="start">GsMTx4</text>
<line x1="185.6" y1="234.4" x2="185.6" y2="242.1" stroke="#000" stroke-width="1.7" stroke-linecap="butt"/>
<polygon points="181.60,241.10 189.60,241.10 185.6,250.9" fill="#000"/>
<text x="162.0" y="310.7" font-size="11.05" font-weight="bold" text-anchor="start">GsMTx4</text>
<line x1="185.6" y1="313.9" x2="185.6" y2="321.9" stroke="#000" stroke-width="1.7" stroke-linecap="butt"/>
<polygon points="181.60,320.90 189.60,320.90 185.6,330.7" fill="#000"/>
<text x="412.8" y="231.2" font-size="11.05" font-weight="bold" text-anchor="start">DMSO</text>
<line x1="430.4" y1="234" x2="430.4" y2="241.9" stroke="#000" stroke-width="1.7" stroke-linecap="butt"/>
<polygon points="426.40,240.90 434.40,240.90 430.4,250.7" fill="#000"/>
<text x="412.5" y="311" font-size="11.05" font-weight="bold" text-anchor="start">DMSO</text>
<line x1="430.3" y1="314" x2="430.3" y2="322.1" stroke="#000" stroke-width="1.7" stroke-linecap="butt"/>
<polygon points="426.30,321.10 434.30,321.10 430.3,330.9" fill="#000"/>
<polyline points="289.5,290.7 289.5,319.5 324.2,319.5" fill="none" stroke="#000" stroke-width="1.4"/>
<text x="283.6" y="315.3" font-size="10" font-weight="bold" text-anchor="start" transform="rotate(-90 283.6 315.3)">0.5g</text>
<text x="294.4" y="329.8" font-size="9.9" font-weight="bold" text-anchor="start">3min</text>
<path d="M64.6 265.6 L65.2 259.9 L65.5 258.7 L65.8 260.2 L66.8 266.1 L67.7 272.5 M69.0 273.1 L70.3 264.5 L70.9 258.7 L71.2 257.5 L71.5 259.0 L72.5 265.5 L73.4 272.5 M74.8 272.9 L76.1 264.2 L76.7 258.2 L77.0 257.0 L77.3 258.5 L78.2 264.6 L79.1 273.3 M80.4 272.8 L81.6 267.9 L82.2 264.9 L82.5 263.7 L82.8 265.2 L83.9 268.5 L84.9 272.3 M86.3 273.3 L87.8 268.1 L88.4 264.2 L88.7 263.0 L89.0 264.5 L90.0 268.5 L90.9 273.1 M91.6 274.1 L92.3 272.7 L93.6 264.5 L94.2 254.9 L94.5 253.7 L94.8 255.2 L95.7 265.9 L96.6 274.9 L97.2 276.5 M97.9 275.2 L99.1 270.2 L99.7 266.2 L100.0 265.0 L100.3 266.5 L101.7 270.7 L102.8 274.5 M104.7 274.7 L106.6 262.0 L107.2 253.2 L107.5 252.0 L107.8 253.5 L108.7 263.1 L109.6 272.0 L110.2 273.8 M110.9 273.4 L112.1 266.0 L112.7 257.4 L113.0 256.2 L113.3 257.7 L114.1 265.6 L114.8 275.0 L115.4 276.4 M116.0 275.8 L116.9 267.8 L117.5 259.9 L117.8 258.7 L118.1 260.2 L118.9 268.0 L119.8 276.2 L120.4 278.0 M121.0 277.7 L122.1 267.3 L122.7 261.2 L123.0 260.0 L123.3 261.5 L124.1 268.0 L124.9 273.9 M126.1 274.4 L127.1 261.1 L127.7 250.0 L128.0 248.8 L128.3 250.3 L129.3 264.1 L130.2 276.5 M131.5 277.4 L132.8 265.4 L133.4 258.7 L133.7 257.5 L134.0 259.0 L134.8 267.7 L135.6 274.5 L136.2 276.4 M136.8 275.9 L137.8 266.8 L138.4 259.9 L138.7 258.7 L139.0 260.2 L140.0 266.7 L140.9 275.2 M142.3 275.3 L143.6 268.2 L144.2 262.4 L144.5 261.2 L144.8 262.7 L145.6 269.6 L146.4 274.4 L147.0 276.3 L147.6 274.7 L148.6 267.2 L149.2 259.9 L149.5 258.7 L149.8 260.2 L150.4 268.5 L151.1 277.0 L151.7 278.5 L152.2 277.3 L152.9 265.1 L153.5 258.2 L153.8 257.0 L154.2 258.5 L154.9 265.3 L155.7 275.0 M156.8 275.0 L157.8 270.6 L158.4 267.2 L158.7 266.0 L159.0 267.5 L160.1 271.4 L161.1 277.0 M162.6 276.4 L164.1 268.1 L164.7 261.7 L165.0 260.5 L165.3 262.0 L166.4 270.6 L167.4 276.9 L168.1 278.9 M168.8 277.5 L170.3 264.3 L170.9 254.9 L171.2 253.7 L171.5 255.2 L172.4 265.0 L173.2 275.4 M174.5 275.2 L175.6 264.0 L176.2 253.7 L176.5 252.5 L176.8 254.0 L177.8 264.3 L178.8 275.5 L179.5 277.5 M180.2 276.9 L181.6 268.1 L182.2 262.4 L182.5 261.2 L182.8 262.7 L183.6 268.9 L184.4 273.1 L185.0 274.9 L185.6 273.3 L186.6 269.0 L187.2 263.7 L187.5 262.5 L187.8 264.0 L188.7 270.9 L189.6 276.7 L190.2 278.4 L190.9 276.9 L192.1 266.8 L192.7 263.2 L193.0 262.0 L193.3 263.5 L194.3 268.1 L195.2 270.7 L195.8 272.7 M197.8 270.2 L198.4 264.9 L198.7 263.7 L199.0 265.2 L199.9 270.4 L200.8 276.1 L201.4 277.6 M202.1 277.2 L203.3 268.6 L203.9 260.5 L204.2 259.3 L204.5 260.8 L205.5 269.0 L206.4 278.1 M207.8 277.9 L209.2 269.5 L209.8 265.1 L210.1 263.9 L210.4 265.4 L211.3 269.8 L212.2 276.5 M213.6 276.9 L214.8 268.9 L215.4 265.4 L215.7 264.2 L216.0 265.7 L217.0 269.9 L218.0 273.0 L218.7 274.9 M219.4 273.5 L220.8 265.6 L221.4 259.9 L221.7 258.7 L222.1 260.2 L223.1 266.6 L224.0 272.2 M225.5 272.8 L226.9 264.3 L227.5 260.1 L227.8 258.9 L228.2 260.4 L229.1 266.1 L230.0 270.6 L230.7 272.5 M231.4 271.2 L232.8 267.5 L233.4 259.5 L233.7 258.3 L234.0 259.8 L234.8 268.4 L235.7 275.2 L236.3 277.1 M236.9 276.1 L238.0 266.7 L238.6 261.8 L238.9 260.6 L239.3 262.1 L240.2 267.8 L241.2 272.2 L241.9 273.6 M242.6 272.7 L243.9 267.5 L244.5 263.5 L244.8 262.3 L245.2 263.8 L246.0 268.9 L246.8 272.1 L247.4 273.5 L248.0 271.9 M249.1 270.2 L249.7 265.0 L250.0 263.8 L250.3 265.3 L251.3 271.8 L252.2 277.0 M253.7 277.8 L255.0 268.3 L255.6 262.3 L255.9 261.1 L256.3 262.6 L257.0 268.1 L257.8 274.5 M258.4 275.5 L259.0 274.1 L260.0 265.9 L260.6 260.7 L260.9 259.5 L261.2 261.0 L262.0 266.0 L262.9 272.7 L263.5 274.1 M264.1 273.1 L265.2 269.2 L265.8 261.6 L266.1 260.4 L266.5 261.9 L267.5 268.8 L268.4 277.0 M269.9 277.7 L271.3 267.7 L271.9 262.9 L272.2 261.7 L272.5 263.2 L273.5 267.2 L274.4 272.4 M275.8 272.5 L277.2 265.0 L277.8 259.2 L278.1 258.0 L278.4 259.5 L279.2 266.2 L280.0 274.2 M280.7 275.1 L281.3 273.6 L282.3 269.7 L282.9 263.8 L283.2 262.6 L283.6 264.1 L284.4 271.1 L285.3 276.5 L285.9 278.1 M286.5 277.7 L287.7 266.5 L288.3 260.3 L288.6 259.1 L288.9 260.6 L289.8 267.7 L290.6 272.6 L291.3 274.3 M292.0 273.7 L294.3 280.0" fill="none" stroke="#000" stroke-width="0.9" stroke-linejoin="round" stroke-linecap="round"/>
<path d="M63.2 268.0 L64.6 265.6 M67.7 272.5 L68.3 273.8 L69.0 273.1 M73.4 272.5 L74.1 273.6 L74.8 272.9 M79.1 273.3 L79.8 273.8 L80.4 272.8 M84.9 272.3 L85.6 273.6 L86.3 273.3 M90.9 273.1 L91.6 274.1 M97.2 276.5 L97.9 275.2 M102.8 274.5 L103.8 276.3 L104.7 274.7 M110.2 273.8 L110.9 273.4 M115.4 276.4 L116.0 275.8 M120.4 278.0 L121.0 277.7 M124.9 273.9 L125.5 274.8 L126.1 274.4 M130.2 276.5 L130.8 277.8 L131.5 277.4 M136.2 276.4 L136.8 275.9 M140.9 275.2 L141.6 276.2 L142.3 275.3 M155.7 275.0 L156.2 275.6 L156.8 275.0 M161.1 277.0 L161.8 277.9 L162.6 276.4 M168.1 278.9 L168.8 277.5 M173.2 275.4 L173.8 276.3 L174.5 275.2 M179.5 277.5 L180.2 276.9 M195.8 272.7 L196.5 271.7 L197.8 270.2 M201.4 277.6 L202.1 277.2 M206.4 278.1 L207.1 278.9 L207.8 277.9 M212.2 276.5 L212.9 277.6 L213.6 276.9 M218.7 274.9 L219.4 273.5 M224.0 272.2 L224.8 273.6 L225.5 272.8 M230.7 272.5 L231.4 271.2 M236.3 277.1 L236.9 276.1 M241.9 273.6 L242.6 272.7 M248.0 271.9 L249.1 270.2 M252.2 277.0 L253.0 278.1 L253.7 277.8 M257.8 274.5 L258.4 275.5 M263.5 274.1 L264.1 273.1 M268.4 277.0 L269.2 278.3 L269.9 277.7 M274.4 272.4 L275.1 273.6 L275.8 272.5 M280.0 274.2 L280.7 275.1 M285.9 278.1 L286.5 277.7 M291.3 274.3 L292.0 273.7" fill="none" stroke="#000" stroke-width="1.15" stroke-linejoin="round" stroke-linecap="round"/>
<path d="M310.0 278.0 L310.2 275.4 L310.5 274.4 L310.8 266.9 L311.0 260.9 L311.2 265.3 L311.5 270.1 L311.8 272.9 L312.0 275.8 L312.2 277.8 L312.5 275.5 L312.8 277.3 L313.0 274.8 L313.2 277.9 L313.5 280.1 L313.8 277.9 L314.0 275.0 L314.2 275.7 L314.5 271.2 L314.8 267.8 L315.0 259.4 L315.2 257.2 L315.5 263.4 L315.8 268.4 L316.0 272.7 L316.2 273.6 L316.5 274.8 L316.8 273.7 L317.0 277.8 M317.2 277.7 L317.5 276.9 L317.8 275.4 L318.0 276.5 L318.2 274.1 L318.5 272.7 L318.8 270.0 L319.0 266.6 L319.2 264.1 L319.5 268.6 L319.8 271.5 L320.0 275.0 M320.2 275.5 L320.5 274.4 L320.8 275.1 L321.0 278.6 M321.8 278.0 L322.0 274.0 L322.2 272.4 L322.5 269.6 L322.8 263.9 L323.0 254.9 L323.2 259.7 L323.5 264.1 L323.8 267.1 L324.0 272.0 L324.2 273.8 L324.5 277.8 L324.8 275.3 M325.0 275.1 L325.2 274.2 M325.5 273.8 L325.8 277.0 L326.0 275.9 L326.2 268.8 L326.5 261.8 L326.8 259.5 L327.0 263.5 L327.2 268.5 L327.5 273.3 L327.8 275.4 L328.0 274.5 L328.2 276.6 L328.5 275.8 L328.8 278.4 L329.0 276.3 L329.2 279.3 L329.5 278.7 M329.8 279.2 L330.0 275.4 M330.2 275.3 L330.5 269.4 L330.8 262.2 L331.0 264.0 L331.2 267.2 L331.5 269.3 L331.8 270.9 L332.0 275.0 M332.5 274.2 L332.8 278.1 L333.0 275.5 L333.2 278.5 L333.5 276.5 M333.8 276.6 L334.0 279.7 M334.8 278.7 L335.0 275.1 L335.2 272.5 L335.5 271.2 L335.8 273.0 L336.0 273.7 L336.2 274.8 L336.5 276.4 L336.8 275.5 L337.0 277.6 L337.2 279.4 M337.5 279.1 L337.8 276.3 L338.0 274.7 L338.2 276.2 M338.5 276.8 L338.8 279.0 L339.0 277.2 L339.2 275.4 L339.5 272.9 L339.8 267.7 L340.0 263.0 L340.2 266.4 L340.5 269.9 L340.8 271.3 L341.0 272.3 L341.2 274.8 L341.5 278.3 L341.8 279.7 L342.0 276.6 M342.2 277.2 L342.5 275.9 L342.8 273.2 L343.0 267.4 L343.2 261.4 L343.5 257.6 L343.8 262.3 L344.0 266.7 L344.2 269.7 L344.5 271.8 L344.8 272.6 L345.0 275.8 L345.2 274.9 L345.5 277.5 M345.8 277.7 L346.0 277.0 L346.2 274.5 L346.5 271.6 L346.8 266.0 M347.0 266.4 L347.2 270.1 L347.5 271.3 L347.8 274.9 L348.0 276.0 L348.2 278.9 L348.5 278.0 M348.8 277.7 L349.0 278.9 L349.2 276.6 M349.8 276.8 L350.0 278.0 L350.2 277.1 L350.5 271.9 L350.8 269.6 L351.0 261.4 L351.2 257.9 L351.5 264.3 L351.8 268.4 L352.0 270.8 L352.2 271.5 L352.5 272.2 L352.8 276.0 L353.0 277.9 M353.2 278.0 L353.5 279.1 L353.8 277.5 L354.0 278.8 L354.2 278.0 L354.5 277.4 L354.8 275.3 L355.0 272.4 L355.2 265.6 L355.5 256.1 L355.8 259.3 L356.0 265.0 L356.2 268.6 L356.5 274.0 M357.0 273.8 L357.2 276.1 M357.5 276.1 L357.8 275.2 L358.0 279.2 L358.2 276.0 L358.5 278.3 L358.8 275.5 L359.0 276.3 L359.2 277.4 L359.5 270.5 L359.8 267.0 L360.0 259.1 L360.2 264.3 L360.5 269.2 L360.8 271.2 L361.0 274.1 L361.2 275.0 L361.5 274.3 L361.8 275.6 L362.0 276.5 L362.2 278.9 L362.5 274.5 M362.8 274.2 L363.0 270.7 L363.2 265.8 L363.5 266.5 L363.8 269.7 L364.0 271.4 L364.2 275.8 M364.5 276.2 L364.8 275.2 L365.0 276.9 L365.2 279.2 L365.5 275.2 L365.8 277.9 M366.0 277.5 L366.2 276.1 L366.5 274.8 L366.8 274.1 L367.0 273.1 L367.2 270.0 M367.5 269.7 L367.8 271.2 L368.0 273.9 L368.2 275.0 L368.5 277.4 L368.8 278.5 L369.0 276.0 L369.2 279.7 L369.5 278.2 L369.8 276.5 L370.0 275.3 L370.2 276.2 L370.5 273.1 L370.8 270.1 M371.0 269.7 L371.2 273.0 M371.5 273.3 L371.8 276.7 M372.2 276.2 L372.5 277.4 M373.2 277.8 L373.5 279.7 L373.8 278.3 L374.0 273.8 M374.2 274.3 L374.5 268.6 M374.8 268.3 L375.0 272.1 L375.2 272.8 M375.5 272.7 L375.8 273.9 L376.0 276.1 L376.2 278.8 L376.5 275.0 M376.8 275.1 L377.0 274.2 M377.2 274.0 L377.5 274.7 M377.8 274.2 L378.0 272.8 L378.2 265.3 L378.5 258.9 L378.8 263.2 L379.0 268.7 L379.2 271.8 M379.5 272.3 L379.8 274.1 L380.0 275.7 L380.2 274.5 L380.5 279.0 L380.8 277.6 L381.0 275.7 L381.2 276.4 M381.5 277.0 L381.8 272.6 L382.0 269.4 L382.2 266.4 L382.5 268.8 L382.8 270.8 L383.0 273.7 L383.2 276.2 L383.5 275.0 L383.8 277.5 M384.0 277.8 L384.2 278.9 L384.5 280.5 L384.8 277.2 L385.0 280.2 L385.2 277.5 L385.5 276.7 L385.8 273.6 L386.0 270.1 L386.2 266.8 L386.5 258.3 L386.8 259.7 L387.0 264.0 L387.2 269.2 L387.5 271.0 L387.8 272.9 L388.0 276.7 M388.2 276.4 L388.5 275.0 L388.8 277.8 L389.0 279.5 L389.2 276.7 L389.5 273.6 L389.8 270.5 M390.0 270.5 L390.2 273.2 L390.5 275.2 L390.8 274.4 L391.0 277.3 L391.2 274.9 M391.5 274.7 L391.8 276.9 L392.0 275.6 L392.2 277.5 L392.5 276.3 L392.8 279.8 L393.0 277.5 L393.2 278.9 M393.5 279.2 L393.8 275.2 L394.0 272.7 L394.2 265.5 L394.5 257.1 L394.8 259.6 L395.0 265.6 L395.2 271.1 L395.5 273.6 M395.8 273.7 L396.0 275.7 M396.5 276.2 L396.8 278.5 L397.0 274.1 M397.2 274.3 L397.5 271.3 L397.8 263.8 L398.0 256.0 L398.2 257.3 L398.5 262.9 L398.8 266.9 L399.0 271.6 L399.2 273.5 L399.5 276.2 M399.8 276.1 L400.0 278.4 M400.2 277.8 L400.5 275.3 L400.8 277.0 L401.0 275.9 M401.2 275.5 L401.5 277.8 L401.8 274.0 L402.0 270.7 L402.2 265.8 L402.5 268.9 L402.8 270.2 L403.0 272.1 L403.2 273.0 M403.5 273.2 L403.8 278.2 L404.0 279.9 L404.2 277.1 L404.5 274.6 L404.8 277.5 L405.0 276.6 L405.2 271.0 L405.5 268.5 L405.8 259.5 L406.0 258.8 L406.2 264.9 L406.5 269.7 L406.8 270.9 L407.0 273.8 L407.2 276.9 M407.8 277.2 L408.0 275.4 L408.2 273.7 L408.5 272.5 L408.8 270.6 L409.0 264.9 L409.2 259.9 L409.5 264.5 L409.8 268.6 L410.0 272.1 L410.2 273.5 L410.5 276.9 M410.8 276.7 L411.0 279.0 L411.2 280.3 M411.8 279.3 L412.0 278.4 L412.2 276.6 L412.5 273.1 L412.8 269.4 L413.0 266.4 L413.2 268.0 L413.5 271.3 L413.8 273.5 L414.0 275.4 M414.8 275.7 L415.0 278.1 L415.2 279.7 L415.5 277.0 M416.5 276.8 L416.8 275.7 L417.0 271.7 L417.2 264.6 L417.5 257.5 L417.8 263.0 L418.0 266.8 L418.2 270.1 L418.5 273.7 M418.8 274.0 L419.0 277.5 L419.2 276.5 L419.5 277.3 M419.8 277.1 L420.0 275.2 L420.2 271.5 L420.5 268.7 L420.8 264.0 L421.0 266.0 L421.2 267.9 L421.5 272.9 L421.8 276.2 L422.0 277.2 L422.2 275.4 L422.5 274.0 L422.8 278.7 L423.0 275.2 M423.2 275.2 L423.5 277.3 L423.8 274.0 L424.0 269.7 L424.2 266.7 L424.5 268.4 L424.8 271.5 M425.0 272.0 L425.2 274.2 L425.5 275.9 L425.8 278.3 L426.0 276.3 L426.2 278.1 L426.5 275.6 M426.8 275.8 L427.0 274.7 L427.2 277.2 M427.8 277.3 L428.0 274.3 L428.2 272.6 L428.5 269.8 L428.8 271.7 L429.0 274.6 L429.2 273.8 L429.5 274.6 L429.8 276.5 L430.0 277.5 L430.2 279.8 L430.5 278.9 L430.8 275.2 L431.0 279.0 L431.2 276.3 L431.5 272.9 L431.8 271.3 L432.0 265.6 M432.2 266.2 L432.5 269.2 L432.8 270.9 L433.0 273.5 L433.2 275.0 M433.5 275.4 L433.8 277.0 L434.0 275.3 M434.8 274.4 L435.0 277.1 L435.2 278.7 L435.5 277.0 L435.8 278.9 L436.0 276.7 L436.2 274.4 L436.5 269.8 L436.8 268.8 L437.0 270.4 L437.2 273.9 M437.5 273.7 L437.8 277.6 M438.0 277.8 L438.2 275.5 L438.5 278.2 L438.8 275.6 M439.0 275.9 L439.2 275.0 L439.5 272.7 L439.8 269.0 L440.0 263.4 L440.2 265.4 L440.5 267.8 L440.8 272.7 L441.0 273.5 L441.2 276.3 M441.5 276.1 L441.8 279.3 M442.0 279.8 L442.2 278.6 M442.5 278.1 L442.8 276.2 L443.0 271.5 L443.2 262.2 L443.5 257.3 L443.8 261.2 L444.0 266.2 L444.2 269.7 L444.5 273.6 L444.8 272.5 L445.0 276.9 L445.2 274.5 L445.5 276.2 L445.8 277.1 L446.0 279.3 L446.2 278.6 L446.5 275.7 L446.8 277.6 L447.0 274.9 M447.2 274.6 L447.5 270.0 L447.8 264.6 L448.0 257.0 L448.2 261.3 L448.5 265.8 L448.8 272.0 L449.0 272.7 L449.2 273.4 L449.5 275.8 L449.8 277.5 L450.0 279.7 L450.2 275.5 M450.5 275.9 L450.8 277.5 L451.0 275.3 L451.2 273.0 L451.5 267.3 L451.8 259.3 L452.0 262.0 L452.2 266.0 L452.5 269.6 L452.8 271.5 L453.0 273.5 M453.5 273.6 L453.8 276.6 L454.0 278.6 L454.2 275.8 L454.5 274.9 L454.8 278.0 L455.0 274.5 L455.2 273.1 L455.5 272.2 L455.8 267.5 L456.0 265.6 L456.2 268.4 L456.5 271.3 L456.8 272.9 M457.0 272.6 L457.2 277.1 L457.5 276.3 L457.8 278.8 L458.0 275.5 L458.2 276.7 L458.5 277.4 L458.8 275.1 L459.0 273.4 L459.2 275.5 L459.5 271.4 L459.8 263.0 L460.0 253.7 L460.2 259.5 L460.5 265.0 L460.8 269.0 L461.0 270.6 L461.2 274.6 L461.5 275.4 L461.8 277.4 L462.0 274.6 L462.2 275.6 L462.5 274.9 L462.8 278.5 L463.0 277.5 L463.2 276.0 L463.5 277.6 L463.8 275.0 L464.0 270.6 L464.2 265.7 L464.5 262.8 L464.8 265.8 L465.0 268.4 L465.2 274.4 L465.5 276.8 M465.8 276.5 L466.0 279.0 L466.2 277.7 L466.5 278.4 L466.8 275.4 L467.0 276.1 M467.2 276.2 L467.5 273.1 L467.8 269.6 L468.0 263.0 L468.2 265.1 L468.5 267.7 L468.8 271.2 L469.0 273.3 L469.2 275.2 L469.5 273.8 L469.8 274.9 L470.0 277.9 L470.2 275.2 M470.8 275.8 L471.0 270.0 L471.2 263.2 M471.5 262.7 L471.8 267.8 L472.0 270.0 L472.2 272.2 L472.5 275.7 L472.8 273.6 L473.0 275.9 M473.2 275.6 L473.5 277.3 L473.8 278.7 L474.0 279.8 L474.2 278.0 M474.5 278.5 L474.8 274.9 L475.0 276.3 L475.2 275.6 L475.5 271.3 L475.8 269.5 L476.0 271.6 L476.2 273.1 M476.5 273.4 L476.8 274.1 L477.0 277.7 M477.2 277.3 L477.5 274.8 L477.8 277.5 L478.0 279.1 L478.2 277.8 L478.5 273.8 M478.8 274.0 L479.0 266.3 L479.2 260.1 L479.5 263.2 L479.8 266.4 L480.0 269.7 L480.2 271.6 L480.5 272.9 M480.8 273.2 L481.0 276.9 L481.2 278.0 L481.5 276.1 L481.8 279.3 L482.0 276.2 L482.2 274.0 L482.5 271.9 L482.8 263.9 L483.0 257.1 L483.2 262.5 L483.5 267.6 L483.8 269.9 L484.0 270.9 L484.2 275.5 L484.5 277.4 M484.8 277.5 L485.0 275.1 L485.2 278.3 L485.5 275.8 L485.8 278.8 L486.0 278.0 L486.2 277.2 L486.5 272.5 L486.8 269.7 L487.0 264.3 L487.2 256.1 L487.5 260.1 L487.8 265.5 L488.0 271.3 L488.2 273.7 M488.8 273.4 L489.0 277.9 L489.2 279.2 M489.5 278.8 L489.8 275.8 L490.0 277.3 L490.2 273.0 L490.5 271.2 L490.8 269.8 L491.0 272.8 M491.2 272.4 L491.5 273.3 L491.8 276.7 L492.0 278.1 L492.2 276.1 L492.5 274.8 L492.8 278.9 L493.0 280.4 M493.2 280.4 L493.5 278.5 L493.8 275.3 L494.0 278.2 M494.5 277.4 L494.8 274.5 L495.0 268.9 L495.2 264.5 L495.5 267.1 L495.8 270.0 L496.0 273.2 L496.2 275.9 M496.5 276.4 L496.8 278.9 L497.0 276.2 L497.2 279.3 L497.5 279.9 L497.8 276.9 L498.0 274.2 L498.2 275.6 L498.5 273.8 L498.8 271.4 L499.0 272.2 L499.2 274.3 L499.5 276.1 L499.8 274.7 L500.0 277.1 M500.2 276.8 L500.5 275.7 M501.0 276.1 L501.2 277.7 L501.5 275.6 L501.8 271.1 L502.0 263.9 L502.2 256.1 L502.5 254.7 L502.8 261.5 L503.0 267.3 L503.2 268.5 L503.5 271.5 L503.8 274.3 M504.0 274.8 L504.2 278.2 L504.5 275.7 L504.8 274.2 L505.0 275.6 L505.2 272.8 L505.5 270.5 L505.8 268.6 L506.0 270.1 L506.2 272.3 M506.5 272.3 L506.8 275.2 L507.0 276.3 M507.8 275.1 L508.0 276.9 M508.2 276.6 L508.5 277.4 M508.8 277.2 L509.0 273.3 L509.2 270.5 L509.5 262.3 L509.8 254.4 L510.0 258.6 L510.2 264.8 L510.5 270.0 L510.8 273.7 L511.0 274.7 L511.2 277.9 L511.5 279.5 M511.8 279.2 L512.0 276.7 L512.2 274.8 M512.5 274.5 L512.8 268.4 L513.0 261.4 L513.2 253.5 L513.5 259.3 L513.8 264.3 L514.0 270.6 L514.2 273.9 L514.5 274.8 M515.0 275.3 L515.2 274.3 M515.5 274.5 L515.8 278.9 L516.0 276.7 L516.2 274.5 L516.5 279.0 L516.8 276.0 M517.0 275.7 L517.2 272.0 L517.5 270.7 M517.8 271.1 L518.0 273.3 L518.2 275.5 L518.5 273.9 L518.8 278.3 L519.0 276.5 L519.2 278.1 L519.5 275.2 L519.8 274.3 L520.0 273.3 L520.2 274.9 L520.5 271.6 L520.8 263.9 L521.0 258.1 L521.2 261.9 L521.5 268.0 L521.8 271.1 L522.0 274.7 L522.2 276.0 L522.5 276.6 L522.8 275.1 M523.2 274.5 L523.5 276.4 L523.8 275.6 L524.0 278.0 L524.2 271.7 L524.5 269.5 L524.8 260.2 L525.0 255.8 L525.2 262.5 L525.5 265.9 L525.8 270.7 L526.0 273.6 L526.2 274.5 L526.5 275.1 M526.8 274.5 L527.0 277.7 L527.2 276.7 L527.5 277.9 L527.8 279.4 L528.0 275.3 L528.2 276.0 L528.5 274.9 M528.8 275.1 L529.0 270.5 L529.2 267.5 L529.5 270.1 L529.8 270.8 L530.0 273.9 M530.2 273.4 L530.5 274.0 L530.8 276.4 L531.0 277.3 L531.2 275.8 L531.5 277.6 L531.8 276.5 L532.0 278.5 L532.2 275.2 L532.5 278.9 L532.8 277.1 L533.0 274.9 L533.2 274.0 L533.5 273.0 L533.8 269.4 L534.0 272.1 M534.2 272.6 L534.5 274.2 M534.8 273.7 L535.0 275.8 L535.2 279.2 L535.5 276.0 L535.8 275.4 L536.0 277.3 L536.2 278.3 L536.5 275.7 M536.8 275.5 L537.0 277.2 L537.2 274.8 L537.5 271.7 L537.8 270.7 L538.0 264.7 L538.2 260.1 L538.5 265.0 L538.8 267.5 L539.0 270.5 L539.2 274.0 L539.5 275.9 L539.8 277.0" fill="none" stroke="#000" stroke-width="0.9" stroke-linejoin="round" stroke-linecap="round"/>
<path d="M317.0 277.8 L317.2 277.7 M320.0 275.0 L320.2 275.5 M321.0 278.6 L321.2 278.1 L321.5 278.4 L321.8 278.0 M324.8 275.3 L325.0 275.1 M325.2 274.2 L325.5 273.8 M329.5 278.7 L329.8 279.2 M330.0 275.4 L330.2 275.3 M332.0 275.0 L332.2 274.7 L332.5 274.2 M333.5 276.5 L333.8 276.6 M334.0 279.7 L334.2 279.6 L334.5 279.1 L334.8 278.7 M337.2 279.4 L337.5 279.1 M338.2 276.2 L338.5 276.8 M342.0 276.6 L342.2 277.2 M345.5 277.5 L345.8 277.7 M346.8 266.0 L347.0 266.4 M348.5 278.0 L348.8 277.7 M349.2 276.6 L349.5 276.6 L349.8 276.8 M353.0 277.9 L353.2 278.0 M356.5 274.0 L356.8 274.5 L357.0 273.8 M357.2 276.1 L357.5 276.1 M362.5 274.5 L362.8 274.2 M364.2 275.8 L364.5 276.2 M365.8 277.9 L366.0 277.5 M367.2 270.0 L367.5 269.7 M370.8 270.1 L371.0 269.7 M371.2 273.0 L371.5 273.3 M371.8 276.7 L372.0 276.2 L372.2 276.2 M372.5 277.4 L372.8 277.5 L373.0 277.7 L373.2 277.8 M374.0 273.8 L374.2 274.3 M374.5 268.6 L374.8 268.3 M375.2 272.8 L375.5 272.7 M376.5 275.0 L376.8 275.1 M377.0 274.2 L377.2 274.0 M377.5 274.7 L377.8 274.2 M379.2 271.8 L379.5 272.3 M381.2 276.4 L381.5 277.0 M383.8 277.5 L384.0 277.8 M388.0 276.7 L388.2 276.4 M389.8 270.5 L390.0 270.5 M391.2 274.9 L391.5 274.7 M393.2 278.9 L393.5 279.2 M395.5 273.6 L395.8 273.7 M396.0 275.7 L396.2 275.7 L396.5 276.2 M397.0 274.1 L397.2 274.3 M399.5 276.2 L399.8 276.1 M400.0 278.4 L400.2 277.8 M401.0 275.9 L401.2 275.5 M403.2 273.0 L403.5 273.2 M407.2 276.9 L407.5 277.2 L407.8 277.2 M410.5 276.9 L410.8 276.7 M411.2 280.3 L411.5 279.8 L411.8 279.3 M414.0 275.4 L414.2 275.7 L414.5 275.2 L414.8 275.7 M415.5 277.0 L415.8 276.4 L416.0 276.9 L416.2 276.6 L416.5 276.8 M418.5 273.7 L418.8 274.0 M419.5 277.3 L419.8 277.1 M423.0 275.2 L423.2 275.2 M424.8 271.5 L425.0 272.0 M426.5 275.6 L426.8 275.8 M427.2 277.2 L427.5 277.4 L427.8 277.3 M432.0 265.6 L432.2 266.2 M433.2 275.0 L433.5 275.4 M434.0 275.3 L434.2 275.6 L434.5 275.0 L434.8 274.4 M437.2 273.9 L437.5 273.7 M437.8 277.6 L438.0 277.8 M438.8 275.6 L439.0 275.9 M441.2 276.3 L441.5 276.1 M441.8 279.3 L442.0 279.8 M442.2 278.6 L442.5 278.1 M447.0 274.9 L447.2 274.6 M450.2 275.5 L450.5 275.9 M453.0 273.5 L453.2 273.7 L453.5 273.6 M456.8 272.9 L457.0 272.6 M465.5 276.8 L465.8 276.5 M467.0 276.1 L467.2 276.2 M470.2 275.2 L470.5 275.4 L470.8 275.8 M471.2 263.2 L471.5 262.7 M473.0 275.9 L473.2 275.6 M474.2 278.0 L474.5 278.5 M476.2 273.1 L476.5 273.4 M477.0 277.7 L477.2 277.3 M478.5 273.8 L478.8 274.0 M480.5 272.9 L480.8 273.2 M484.5 277.4 L484.8 277.5 M488.2 273.7 L488.5 273.5 L488.8 273.4 M489.2 279.2 L489.5 278.8 M491.0 272.8 L491.2 272.4 M493.0 280.4 L493.2 280.4 M494.0 278.2 L494.2 277.7 L494.5 277.4 M496.2 275.9 L496.5 276.4 M500.0 277.1 L500.2 276.8 M500.5 275.7 L500.8 275.8 L501.0 276.1 M503.8 274.3 L504.0 274.8 M506.2 272.3 L506.5 272.3 M507.0 276.3 L507.2 275.7 L507.5 275.4 L507.8 275.1 M508.0 276.9 L508.2 276.6 M508.5 277.4 L508.8 277.2 M511.5 279.5 L511.8 279.2 M512.2 274.8 L512.5 274.5 M514.5 274.8 L514.8 274.9 L515.0 275.3 M515.2 274.3 L515.5 274.5 M516.8 276.0 L517.0 275.7 M517.5 270.7 L517.8 271.1 M522.8 275.1 L523.0 274.8 L523.2 274.5 M526.5 275.1 L526.8 274.5 M528.5 274.9 L528.8 275.1 M530.0 273.9 L530.2 273.4 M534.0 272.1 L534.2 272.6 M534.5 274.2 L534.8 273.7 M536.5 275.7 L536.8 275.5 M539.8 277.0 L540.0 277.3" fill="none" stroke="#000" stroke-width="1.2" stroke-linejoin="round" stroke-linecap="round"/>
<path d="M63.4 391.0 L63.7 384.5 L64.0 381.0 L64.3 377.3 L64.6 374.7 L64.9 368.6 L65.2 364.6 L65.5 360.6 L65.8 361.9 L66.1 366.2 L66.4 369.4 L66.7 371.1 L67.0 374.7 L67.3 377.7 L67.6 380.1 L67.9 381.3 L68.2 383.6 M68.5 384.3 L68.8 387.5 L69.1 389.3 M69.4 389.2 L69.7 393.3 L70.0 394.7 L70.3 393.4 L70.6 394.9 L70.9 393.1 L71.2 394.8 M71.5 394.7 L71.8 391.6 M72.1 391.9 L72.4 388.5 L72.7 385.1 L73.0 383.0 L73.3 378.2 L73.6 375.5 L73.9 369.3 L74.2 364.1 L74.5 360.3 L74.8 362.5 L75.1 366.3 L75.4 369.6 L75.7 372.9 L76.0 376.3 L76.3 379.1 L76.6 382.6 L76.9 383.8 L77.2 385.7 L77.5 386.8 L77.8 388.0 L78.1 391.1 L78.4 389.3 M78.7 388.7 L79.0 390.5 M79.3 390.3 L79.6 392.1 L79.9 391.2 L80.2 386.6 L80.5 385.1 M80.8 384.6 L81.1 381.0 L81.4 378.0 L81.7 372.8 L82.0 366.7 L82.3 362.5 L82.6 361.1 L82.9 362.7 L83.2 366.3 L83.5 369.8 L83.8 373.0 L84.1 375.6 L84.4 378.2 L84.7 382.4 L85.0 384.6 M85.3 384.5 L85.6 387.3 L85.9 388.2 L86.2 389.8 L86.5 391.9 L86.8 388.1 M87.4 388.7 L87.7 392.3 L88.0 393.7 L88.3 389.6 M88.6 389.3 L88.9 390.2 L89.2 388.1 L89.5 385.0 L89.8 382.9 L90.1 379.2 L90.4 371.9 L90.7 368.4 L91.0 362.2 L91.3 360.6 L91.6 363.6 L91.9 366.1 L92.2 369.1 L92.5 373.8 L92.8 377.1 L93.1 380.7 M93.4 380.0 L93.7 383.5 L94.0 386.2 L94.3 389.1 M94.6 389.8 L94.9 388.5 M95.5 388.7 L95.8 389.7 L96.1 392.1 M96.4 391.6 L96.7 390.8 L97.0 389.7 L97.3 392.1 M97.6 392.4 L97.9 387.8 L98.2 386.9 M98.5 386.4 L98.8 381.0 L99.1 376.9 L99.4 372.7 L99.7 366.2 L100.0 363.3 L100.3 365.6 L100.6 368.6 L100.9 371.0 L101.2 374.2 L101.5 378.6 M101.8 378.8 L102.1 380.4 L102.4 384.5 L102.7 388.2 L103.0 386.7 M103.3 387.3 L103.6 389.5 L103.9 392.3 M104.2 392.4 L104.5 393.3 L104.8 390.6 M105.1 390.9 L105.4 393.3 L105.7 394.4 L106.0 390.6 L106.3 388.8 M106.6 388.5 L106.9 387.4 L107.2 384.7 L107.5 380.6 L107.8 375.8 L108.1 372.5 L108.4 367.2 L108.7 359.1 L109.0 352.0 L109.3 348.4 L109.6 352.4 L109.9 356.5 L110.2 362.0 L110.5 366.1 L110.8 370.2 L111.1 375.0 L111.4 378.8 M111.7 378.4 L112.0 381.2 M112.3 381.7 L112.6 385.2 M112.9 385.4 L113.2 388.7 M113.5 388.4 L113.8 386.9 L114.1 391.7 L114.4 389.1 M115.0 388.9 L115.3 385.5 L115.6 386.5 L115.9 384.3 L116.2 378.6 L116.5 375.9 L116.8 370.0 L117.1 365.6 L117.4 360.4 M117.7 360.8 L118.0 363.9 L118.3 367.3 L118.6 370.9 L118.9 375.0 L119.2 376.2 L119.5 378.3 L119.8 379.8 L120.1 383.8 M120.7 384.8 L121.0 385.6 L121.3 387.7 L121.6 390.9 M121.9 390.2 L122.2 392.4 L122.5 391.5 M122.8 392.1 L123.1 390.7 M123.4 391.2 L123.7 392.6 L124.0 389.0 M124.3 389.2 L124.6 387.1 L124.9 385.2 L125.2 382.9 L125.5 378.9 L125.8 375.8 L126.1 368.8 L126.4 362.9 L126.7 356.6 L127.0 351.5 L127.3 355.1 L127.6 359.1 L127.9 363.9 L128.2 366.3 L128.5 369.7 L128.8 373.5 L129.1 377.5 L129.4 381.9 L129.7 384.9 L130.0 387.3 L130.3 385.2 M130.6 385.6 L130.9 388.1 L131.2 389.9 L131.5 388.7 L131.8 390.7 M132.1 390.4 L132.4 394.6 L132.7 392.3 M133.0 392.0 L133.3 390.6 L133.6 393.0 L133.9 388.7 L134.2 387.9 L134.5 384.7 L134.8 381.5 L135.1 380.3 L135.4 375.0 L135.7 369.4 L136.0 363.4 L136.3 362.1 L136.6 365.1 L136.9 368.0 L137.2 370.2 L137.5 372.5 L137.8 376.7 L138.1 379.5 L138.4 383.4 L138.7 386.5 L139.0 387.9 L139.3 386.6 L139.6 390.7 M139.9 390.6 L140.2 388.2 M140.5 388.9 L140.8 393.4 M141.4 393.5 L141.7 392.1 L142.0 387.4 L142.3 389.4 L142.6 384.8 L142.9 383.3 L143.2 378.7 L143.5 373.5 L143.8 367.9 L144.1 362.5 L144.4 356.7 M144.7 356.5 L145.0 360.4 L145.3 363.0 L145.6 366.7 L145.9 370.0 L146.2 372.3 L146.5 376.1 L146.8 377.2 L147.1 383.1 L147.4 385.5 M147.7 385.6 L148.0 384.5 L148.3 386.0 L148.6 389.6 L148.9 388.5 L149.2 387.6 L149.5 388.4 M149.8 388.2 L150.1 384.3 L150.4 382.4 L150.7 379.9 L151.0 376.2 L151.3 369.1 L151.6 363.4 L151.9 353.2 L152.2 345.1 L152.5 337.6 L152.8 342.0 L153.1 346.9 L153.4 351.5 L153.7 358.2 L154.0 364.0 L154.3 366.4 L154.6 372.7 L154.9 377.4 L155.2 378.3 L155.5 382.4 L155.8 384.8 L156.1 386.1 M156.7 387.3 L157.0 390.9 L157.3 392.3 M157.6 392.7 L157.9 387.1 M158.2 386.5 L158.5 384.6 L158.8 379.5 L159.1 374.4 L159.4 371.7 L159.7 366.5 L160.0 362.3 L160.3 364.0 L160.6 367.0 L160.9 371.0 L161.2 372.6 L161.5 377.0 L161.8 380.2 L162.1 381.9 L162.4 385.9 L162.7 387.0 L163.0 389.5 L163.3 387.9 L163.6 389.3 M163.9 389.7 L164.2 391.4 L164.5 393.6 L164.8 395.4 L165.1 394.3 L165.4 392.4 L165.7 390.7 L166.0 386.5 L166.3 382.2 L166.6 374.2 L166.9 368.4 L167.2 361.1 L167.5 351.7 L167.8 344.4 L168.1 340.8 L168.4 344.8 L168.7 349.5 L169.0 355.6 L169.3 360.5 L169.6 367.2 L169.9 371.2 L170.2 374.1 L170.5 376.1 L170.8 378.0 L171.1 383.1 L171.4 385.5 L171.7 386.7 L172.0 388.0 M172.3 388.6 L172.6 392.0 L172.9 388.8 M173.2 389.3 L173.5 392.7 L173.8 391.1 L174.1 390.0 M174.4 389.4 L174.7 387.4 M175.0 387.6 L175.3 382.4 L175.6 380.5 L175.9 377.2 L176.2 371.2 L176.5 366.4 L176.8 360.4 L177.1 358.6 L177.4 360.7 L177.7 364.1 L178.0 368.0 L178.3 371.7 L178.6 374.4 L178.9 375.6 L179.2 379.4 L179.5 383.3 M180.1 383.8 L180.4 386.8 M181.3 386.6 L181.6 390.0 L181.9 392.5 L182.2 391.5 L182.5 389.3 M182.8 388.6 L183.1 386.3 L183.4 380.5 L183.7 376.3 L184.0 373.2 L184.3 367.2 L184.6 359.7 L184.9 353.4 M185.2 353.4 L185.5 356.4 L185.8 360.6 L186.1 364.4 L186.4 369.3 L186.7 373.4 L187.0 376.7 L187.3 380.8 L187.6 379.8 L187.9 381.9 L188.2 383.2 L188.5 385.9 L188.8 390.2 M189.1 389.8 L189.4 392.1 L189.7 389.9 L190.0 390.7 L190.3 391.9 L190.6 390.2 L190.9 392.3 L191.2 391.5 M191.5 390.9 L191.8 386.4 L192.1 385.4 M192.4 385.6 L192.7 380.0 L193.0 374.7 L193.3 370.9 L193.6 365.0 M193.9 365.6 L194.2 368.9 L194.5 373.0 L194.8 376.1 L195.1 378.7 L195.4 381.4 L195.7 383.4 L196.0 387.3 L196.3 386.5 M196.6 387.2 L196.9 390.0 L197.2 393.8 M198.1 394.4 L198.4 391.7 L198.7 392.8 L199.0 390.4 L199.3 392.3 L199.6 389.8 M199.9 389.1 L200.2 388.3 M200.5 388.2 L200.8 387.2 L201.1 383.5 L201.4 379.3 L201.7 374.9 L202.0 371.7 L202.3 366.1 L202.6 363.8 L202.9 366.1 L203.2 369.6 L203.5 375.0 L203.8 376.2 L204.1 378.8 L204.4 383.2 L204.7 387.3 L205.0 389.3 L205.3 390.4 L205.6 388.6 L205.9 390.8 L206.2 392.8 M206.5 392.3 L206.8 391.3 L207.1 388.5 L207.4 385.8 L207.7 382.0 L208.0 377.0 L208.3 372.7 L208.6 368.9 M208.9 369.0 L209.2 370.8 L209.5 374.2 L209.8 378.4 L210.1 380.9 L210.4 382.3 L210.7 385.8 L211.0 387.0 L211.3 385.5 L211.6 388.1 L211.9 390.1 L212.2 386.4 L212.5 390.6 L212.8 389.2 L213.1 391.2 L213.4 386.7 M213.7 386.8 L214.0 386.0 L214.3 384.4 M214.6 384.7 L214.9 383.2 L215.2 379.4 L215.5 375.9 L215.8 369.3 L216.1 365.0 M216.4 365.5 L216.7 369.0 L217.0 372.2 L217.3 375.9 L217.6 378.5 L217.9 379.5 L218.2 381.8 L218.5 383.9 M218.8 383.8 L219.1 385.2 L219.4 387.0 M219.7 387.7 L220.0 384.6 L220.3 383.3 L220.6 386.8 L220.9 388.5 L221.2 385.5 L221.5 388.4 M221.8 388.3 L222.1 384.9 L222.4 383.6 L222.7 385.2 L223.0 384.5 L223.3 381.1 M223.6 381.4 L223.9 377.1 L224.2 375.3 L224.5 373.1 M224.8 373.5 L225.1 376.2 L225.4 378.1 L225.7 381.2 M226.0 381.8 L226.3 382.8 M226.6 383.1 L226.9 386.7 L227.2 385.8 L227.5 389.0 L227.8 385.7 L228.1 389.7 L228.4 386.2 L228.7 388.7 L229.0 389.8 L229.3 385.9 L229.6 384.9 L229.9 382.0 L230.2 377.5 L230.5 375.9 L230.8 370.8 L231.1 366.8 M231.4 366.3 L231.7 368.9 L232.0 372.0 L232.3 376.6 M232.6 377.2 L232.9 378.7 L233.2 381.8 L233.5 383.7 L233.8 387.2 L234.1 388.9 L234.4 386.3 M234.7 386.6 L235.0 383.4 L235.3 382.1 L235.6 378.9 L235.9 374.4 L236.2 372.4 L236.5 373.9 L236.8 376.0 L237.1 378.3 L237.4 380.8 L237.7 381.7 L238.0 383.3 L238.3 385.9 M238.6 386.5 L238.9 384.8 M239.2 384.3 L239.5 385.1 L239.8 389.1 L240.1 386.8 L240.4 388.2 M240.7 388.0 L241.0 385.2 L241.3 380.9 L241.6 379.0 L241.9 374.0 L242.2 372.3 L242.5 363.8 L242.8 356.3 L243.1 353.6 L243.4 358.0 L243.7 362.1 L244.0 367.7 L244.3 371.9 L244.6 376.7 L244.9 380.7 M245.2 381.0 L245.5 383.3 L245.8 384.4 L246.1 389.1 M246.7 388.6 L247.0 391.5 L247.3 390.0 L247.6 388.7 L247.9 384.7 L248.2 379.7 L248.5 376.3 L248.8 370.8 L249.1 366.0 L249.4 361.0 M249.7 361.6 L250.0 366.1 L250.3 369.5 L250.6 371.8 L250.9 374.6 L251.2 379.2 L251.5 381.3 L251.8 382.7 L252.1 384.5 L252.4 385.3 L252.7 387.6 M253.0 388.2 L253.3 385.8 L253.6 387.8 M253.9 387.2 L254.2 389.0 M254.5 388.4 L254.8 389.4 M255.1 389.9 L255.4 387.7 L255.7 384.8 L256.0 381.3 L256.3 375.6 L256.6 372.6 L256.9 365.2 L257.2 358.8 L257.5 353.7 L257.8 356.7 L258.1 362.2 L258.4 366.5 L258.7 372.2 L259.0 373.1 L259.3 377.2 L259.6 379.6 L259.9 382.9 L260.2 385.4 L260.5 386.8 L260.8 389.8 L261.1 388.6 M261.4 388.4 L261.7 389.7 L262.0 388.0 L262.3 385.1 M262.6 385.3 L262.9 380.5 L263.2 376.6 L263.5 374.1 M263.8 373.4 L264.1 375.8 L264.4 378.5 L264.7 380.6 L265.0 382.4 L265.3 383.5 L265.6 384.3 L265.9 386.3 M266.2 385.9 L266.5 382.0 L266.8 379.0 L267.1 373.7 L267.4 368.6 M267.7 369.0 L268.0 371.8 L268.3 376.2 L268.6 379.6 L268.9 380.4 L269.2 385.0 L269.5 386.9 M269.8 387.1 L270.1 390.0 M270.7 389.8 L271.0 386.9 L271.3 384.3 L271.6 381.4 L271.9 376.3 L272.2 369.9 L272.5 365.4 L272.8 368.4 L273.1 372.0 L273.4 374.2 L273.7 378.3 L274.0 380.6 L274.3 384.3 M274.6 384.7 L274.9 386.4 L275.2 387.5 L275.5 388.3 M275.8 388.0 L276.1 387.0 L276.4 383.2 L276.7 379.1 L277.0 374.9 L277.3 371.0 L277.6 372.9 L277.9 376.0 L278.2 377.9 L278.5 381.7 L278.8 385.1 L279.1 387.3 L279.4 385.5 L279.7 387.1 L280.0 381.7 L280.3 376.9 L280.6 373.4 L280.9 367.7 L281.2 363.3 L281.5 366.3 L281.8 369.9 L282.1 373.5 L282.4 376.7 L282.7 380.0 L283.0 383.3 L283.3 385.3 L283.6 386.9 L283.9 388.8 M284.2 388.2 L284.5 389.4 L284.8 387.1 L285.1 385.3 M285.7 384.8 L286.0 380.7 L286.3 379.3 L286.6 374.1 L286.9 370.7 M287.2 371.0 L287.5 374.4 L287.8 375.5 L288.1 377.6 L288.4 380.9 L288.7 382.0 L289.0 383.3 M289.3 383.4 L289.6 387.9 M289.9 387.2 L290.2 388.2 L290.5 386.2 L290.8 388.0 L291.1 383.2 M291.4 382.8 L291.7 378.3 L292.0 376.1 L292.3 372.6 M292.6 372.1 L292.9 373.7 L293.2 376.8 M293.5 377.2 L293.8 379.2 L294.1 383.8" fill="none" stroke="#000" stroke-width="0.9" stroke-linejoin="round" stroke-linecap="round"/>
<path d="M68.2 383.6 L68.5 384.3 M69.1 389.3 L69.4 389.2 M71.2 394.8 L71.5 394.7 M71.8 391.6 L72.1 391.9 M78.4 389.3 L78.7 388.7 M79.0 390.5 L79.3 390.3 M80.5 385.1 L80.8 384.6 M85.0 384.6 L85.3 384.5 M86.8 388.1 L87.1 388.3 L87.4 388.7 M88.3 389.6 L88.6 389.3 M93.1 380.7 L93.4 380.0 M94.3 389.1 L94.6 389.8 M94.9 388.5 L95.2 387.9 L95.5 388.7 M96.1 392.1 L96.4 391.6 M97.3 392.1 L97.6 392.4 M98.2 386.9 L98.5 386.4 M101.5 378.6 L101.8 378.8 M103.0 386.7 L103.3 387.3 M103.9 392.3 L104.2 392.4 M104.8 390.6 L105.1 390.9 M106.3 388.8 L106.6 388.5 M111.4 378.8 L111.7 378.4 M112.0 381.2 L112.3 381.7 M112.6 385.2 L112.9 385.4 M113.2 388.7 L113.5 388.4 M114.4 389.1 L114.7 388.7 L115.0 388.9 M117.4 360.4 L117.7 360.8 M120.1 383.8 L120.4 384.4 L120.7 384.8 M121.6 390.9 L121.9 390.2 M122.5 391.5 L122.8 392.1 M123.1 390.7 L123.4 391.2 M124.0 389.0 L124.3 389.2 M130.3 385.2 L130.6 385.6 M131.8 390.7 L132.1 390.4 M132.7 392.3 L133.0 392.0 M139.6 390.7 L139.9 390.6 M140.2 388.2 L140.5 388.9 M140.8 393.4 L141.1 393.9 L141.4 393.5 M144.4 356.7 L144.7 356.5 M147.4 385.5 L147.7 385.6 M149.5 388.4 L149.8 388.2 M156.1 386.1 L156.4 386.6 L156.7 387.3 M157.3 392.3 L157.6 392.7 M157.9 387.1 L158.2 386.5 M163.6 389.3 L163.9 389.7 M172.0 388.0 L172.3 388.6 M172.9 388.8 L173.2 389.3 M174.1 390.0 L174.4 389.4 M174.7 387.4 L175.0 387.6 M179.5 383.3 L179.8 383.1 L180.1 383.8 M180.4 386.8 L180.7 386.4 L181.0 386.3 L181.3 386.6 M182.5 389.3 L182.8 388.6 M184.9 353.4 L185.2 353.4 M188.8 390.2 L189.1 389.8 M191.2 391.5 L191.5 390.9 M192.1 385.4 L192.4 385.6 M193.6 365.0 L193.9 365.6 M196.3 386.5 L196.6 387.2 M197.2 393.8 L197.5 394.1 L197.8 393.8 L198.1 394.4 M199.6 389.8 L199.9 389.1 M200.2 388.3 L200.5 388.2 M206.2 392.8 L206.5 392.3 M208.6 368.9 L208.9 369.0 M213.4 386.7 L213.7 386.8 M214.3 384.4 L214.6 384.7 M216.1 365.0 L216.4 365.5 M218.5 383.9 L218.8 383.8 M219.4 387.0 L219.7 387.7 M221.5 388.4 L221.8 388.3 M223.3 381.1 L223.6 381.4 M224.5 373.1 L224.8 373.5 M225.7 381.2 L226.0 381.8 M226.3 382.8 L226.6 383.1 M231.1 366.8 L231.4 366.3 M232.3 376.6 L232.6 377.2 M234.4 386.3 L234.7 386.6 M238.3 385.9 L238.6 386.5 M238.9 384.8 L239.2 384.3 M240.4 388.2 L240.7 388.0 M244.9 380.7 L245.2 381.0 M246.1 389.1 L246.4 388.5 L246.7 388.6 M249.4 361.0 L249.7 361.6 M252.7 387.6 L253.0 388.2 M253.6 387.8 L253.9 387.2 M254.2 389.0 L254.5 388.4 M254.8 389.4 L255.1 389.9 M261.1 388.6 L261.4 388.4 M262.3 385.1 L262.6 385.3 M263.5 374.1 L263.8 373.4 M265.9 386.3 L266.2 385.9 M267.4 368.6 L267.7 369.0 M269.5 386.9 L269.8 387.1 M270.1 390.0 L270.4 389.9 L270.7 389.8 M274.3 384.3 L274.6 384.7 M275.5 388.3 L275.8 388.0 M283.9 388.8 L284.2 388.2 M285.1 385.3 L285.4 385.5 L285.7 384.8 M286.9 370.7 L287.2 371.0 M289.0 383.3 L289.3 383.4 M289.6 387.9 L289.9 387.2 M291.1 383.2 L291.4 382.8 M292.3 372.6 L292.6 372.1 M293.2 376.8 L293.5 377.2" fill="none" stroke="#000" stroke-width="1.25" stroke-linejoin="round" stroke-linecap="round"/>
<path d="M310.3 401.0 L310.6 374.2 L310.9 359.1 L311.2 339.2 M311.5 338.8 L311.8 350.4 L312.1 362.9 L312.4 366.1 L312.7 373.4 L313.0 378.4 L313.3 381.7 L313.6 383.5 L313.9 377.2 M314.2 377.1 L314.5 382.5 L314.8 387.7 L315.1 385.2 M315.4 384.9 L315.7 390.7 L316.0 395.6 L316.3 394.1 L316.6 391.8 L316.9 388.3 L317.2 385.5 L317.5 381.6 L317.8 371.2 L318.1 366.9 L318.4 371.3 L318.7 378.2 L319.0 382.7 L319.3 384.5 M319.6 384.9 L319.9 386.2 L320.2 393.9 L320.5 392.8 L320.8 385.3 L321.1 384.1 L321.4 379.2 M321.7 378.9 L322.0 381.0 L322.3 387.0 L322.6 387.8 L322.9 392.0 L323.2 389.1 L323.5 394.0 L323.8 389.2 L324.1 384.0 L324.4 375.7 L324.7 367.3 L325.0 354.1 L325.3 360.1 L325.6 366.2 L325.9 372.6 L326.2 376.3 L326.5 381.2 L326.8 383.0 M327.1 383.1 L327.4 386.9 L327.7 384.4 L328.0 385.4 L328.3 379.4 L328.6 380.6 L328.9 382.3 L329.2 384.0 L329.5 387.7 M329.8 387.8 L330.1 392.4 L330.4 390.3 L330.7 396.2 L331.0 387.4 L331.3 383.5 L331.6 386.4 L331.9 379.1 L332.2 366.5 L332.5 356.4 L332.8 361.7 L333.1 368.6 L333.4 373.1 L333.7 379.3 L334.0 384.5 L334.3 389.7 L334.6 387.3 L334.9 390.6 M335.2 390.8 L335.5 389.9 L335.8 383.6 L336.1 381.4 L336.4 385.4 L336.7 386.3 L337.0 387.8 L337.3 393.8 L337.6 388.1 L337.9 386.3 L338.2 389.9 L338.5 382.9 L338.8 373.2 L339.1 362.2 M339.4 361.6 L339.7 367.9 L340.0 371.5 L340.3 380.2 L340.6 386.4 L340.9 389.6 L341.2 394.3 M341.5 394.8 L341.8 387.5 L342.1 385.2 L342.4 387.6 M342.7 387.1 L343.0 392.3 L343.3 394.7 L343.6 390.8 M343.9 390.7 L344.2 395.9 L344.5 396.8 L344.8 390.1 L345.1 392.4 L345.4 387.7 L345.7 389.0 L346.0 380.3 L346.3 366.3 L346.6 354.4 M346.9 353.9 L347.2 364.6 L347.5 373.4 L347.8 379.3 M348.1 378.7 L348.4 388.8 L348.7 387.4 L349.0 392.1 L349.3 389.4 L349.6 382.8 L349.9 377.4 L350.2 380.5 L350.5 386.2 M350.8 386.0 L351.1 389.1 M351.4 389.7 L351.7 381.7 M352.0 381.3 L352.3 386.7 L352.6 388.7 L352.9 394.1 L353.2 391.9 M353.5 392.1 L353.8 386.7 L354.1 372.2 L354.4 359.7 L354.7 344.4 L355.0 351.2 L355.3 363.2 L355.6 369.2 L355.9 377.0 L356.2 378.2 L356.5 388.7 L356.8 394.0 M357.1 394.1 L357.4 389.7 L357.7 394.6 M358.3 394.8 L358.6 392.4 L358.9 391.3 L359.2 398.2 L359.5 396.9 M359.8 397.2 L360.1 395.7 L360.4 390.2 L360.7 386.7 L361.0 380.3 L361.3 378.5 L361.6 381.3 L361.9 386.0 M362.2 386.3 L362.5 388.2 L362.8 387.2 M363.1 387.2 L363.4 389.2 L363.7 387.6 L364.0 389.1 L364.3 386.5 L364.6 384.3 L364.9 380.4 L365.2 386.0 M365.5 385.3 L365.8 391.1 M366.4 389.8 L366.7 393.6 L367.0 392.5 L367.3 389.0 M367.6 388.6 L367.9 393.1 M368.2 392.6 L368.5 391.3 L368.8 379.3 L369.1 371.9 L369.4 358.1 M369.7 358.8 L370.0 364.8 L370.3 371.4 L370.6 380.3 M370.9 380.8 L371.2 384.4 L371.5 391.3 L371.8 390.2 M372.1 390.3 L372.4 383.9 L372.7 376.8 L373.0 375.6 L373.3 380.0 L373.6 382.5 L373.9 389.4 L374.2 385.9 L374.5 389.0 L374.8 386.2 L375.1 388.8 L375.4 389.7 L375.7 392.9 L376.0 387.6 L376.3 390.0 L376.6 389.0 L376.9 380.1 L377.2 372.7 L377.5 363.0 L377.8 367.5 L378.1 374.2 L378.4 377.9 L378.7 378.9 L379.0 384.2 L379.3 389.2 L379.6 386.4 L379.9 389.3 L380.2 394.3 L380.5 387.8 L380.8 395.1 L381.1 391.9 M381.4 391.4 L381.7 394.8 M382.0 394.5 L382.3 391.4 L382.6 389.1 L382.9 391.0 L383.2 395.8 L383.5 396.8 L383.8 392.2 L384.1 387.4 L384.4 380.6 L384.7 372.0 L385.0 359.5 L385.3 363.8 L385.6 372.3 L385.9 373.7 L386.2 380.1 L386.5 383.1 L386.8 390.2 M387.1 390.8 L387.4 388.1 L387.7 386.5 L388.0 390.6 L388.3 392.9 M388.6 392.8 L388.9 394.2 L389.2 389.2 L389.5 391.2 L389.8 396.3 L390.1 391.5 L390.4 388.4 L390.7 386.0 L391.0 389.4 L391.3 383.9 L391.6 371.7 L391.9 359.7 M392.2 360.1 L392.5 368.7 L392.8 376.2 L393.1 382.5 L393.4 386.7 L393.7 388.6 L394.0 385.6 L394.3 393.8 L394.6 388.9 M394.9 389.3 L395.2 383.9 L395.5 380.6 L395.8 384.6 L396.1 385.7 L396.4 391.6 L396.7 389.2 L397.0 388.0 M397.6 388.1 L397.9 389.8 L398.2 387.7 M398.5 387.6 L398.8 381.7 L399.1 373.6 L399.4 371.9 L399.7 375.5 L400.0 380.0 L400.3 383.1 L400.6 384.8 L400.9 391.3 L401.2 387.4 L401.5 392.1 L401.8 390.0 M402.1 390.4 L402.4 388.4 L402.7 386.2 L403.0 383.3 L403.3 375.0 L403.6 376.1 L403.9 383.1 L404.2 384.0 L404.5 385.4 L404.8 390.7 L405.1 387.8 L405.4 379.7 L405.7 366.6 L406.0 354.2 L406.3 359.9 L406.6 369.8 L406.9 376.6 L407.2 382.7 L407.5 385.4 L407.8 391.6 M408.1 390.9 L408.4 396.6 L408.7 394.0 L409.0 396.8 L409.3 390.0 L409.6 386.9 L409.9 384.1 L410.2 386.7 L410.5 390.8 L410.8 393.9 L411.1 390.9 L411.4 395.1 M411.7 395.2 L412.0 392.5 L412.3 386.4 L412.6 387.9 L412.9 380.7 L413.2 364.5 L413.5 343.5 L413.8 332.3 L414.1 343.5 L414.4 354.5 L414.7 362.3 L415.0 371.4 L415.3 377.8 L415.6 382.8 M415.9 383.1 L416.2 385.3 L416.5 395.2 M416.8 394.6 L417.1 389.7 L417.4 387.8 L417.7 383.9 M418.0 383.6 L418.3 384.9 L418.6 389.7 L418.9 394.2 M419.2 394.2 L419.5 397.9 M419.8 398.2 L420.1 395.7 L420.4 393.4 L420.7 392.2 L421.0 385.0 L421.3 375.0 L421.6 366.1 L421.9 353.4 M422.2 353.9 L422.5 359.6 L422.8 370.3 L423.1 372.6 L423.4 379.8 L423.7 381.4 L424.0 384.7 L424.3 386.3 L424.6 391.4 L424.9 393.3 L425.2 392.0 L425.5 385.6 L425.8 379.1 M426.1 379.4 L426.4 381.6 L426.7 383.7 L427.0 385.6 L427.3 388.0 M427.6 387.9 L427.9 394.9 L428.2 391.5 L428.5 390.1 M428.8 389.6 L429.1 379.1 L429.4 371.3 L429.7 355.8 L430.0 342.7 L430.3 352.2 L430.6 360.6 L430.9 366.7 L431.2 374.9 L431.5 379.6 L431.8 383.4 L432.1 387.6 L432.4 390.9 L432.7 394.6 L433.0 397.2 M433.3 396.5 L433.6 392.7 L433.9 388.3 L434.2 384.8 M434.5 384.7 L434.8 385.5 L435.1 390.1 L435.4 384.4 L435.7 379.5 L436.0 384.1 M436.3 384.5 L436.6 378.9 L436.9 375.1 L437.2 359.0 L437.5 346.8 L437.8 352.9 L438.1 363.0 L438.4 368.8 L438.7 375.6 L439.0 381.6 L439.3 386.1 L439.6 384.4 L439.9 389.7 L440.2 387.0 M440.5 387.8 L440.8 393.9 L441.1 389.4 L441.4 391.2 L441.7 388.6 L442.0 393.0 L442.3 390.0 L442.6 391.2 L442.9 397.9 L443.2 393.8 L443.5 393.0 L443.8 387.4 M444.1 387.1 L444.4 383.4 M444.7 383.1 L445.0 373.5 L445.3 363.8 L445.6 359.0 L445.9 366.7 L446.2 373.3 L446.5 376.4 L446.8 380.0 L447.1 382.7 L447.4 387.4 L447.7 390.2 L448.0 387.4 L448.3 384.4 L448.6 383.4 L448.9 377.2 L449.2 378.6 L449.5 380.5 L449.8 382.2 L450.1 383.8 L450.4 387.4 L450.7 382.1 L451.0 382.8 L451.3 386.1 L451.6 390.5 L451.9 388.2 L452.2 389.4 L452.5 379.4 L452.8 374.4 L453.1 371.2 L453.4 374.2 L453.7 381.9 L454.0 384.4 M454.3 383.9 L454.6 390.3 L454.9 386.9 L455.2 392.8 L455.5 395.1 L455.8 391.2 L456.1 384.3 L456.4 381.5 L456.7 385.9 L457.0 389.8 L457.3 389.0 L457.6 394.7 L457.9 396.5 L458.2 391.2 L458.5 397.6 L458.8 390.0 M459.1 389.8 L459.4 386.2 L459.7 381.2 L460.0 375.3 L460.3 361.3 L460.6 350.7 L460.9 356.5 L461.2 365.9 L461.5 371.7 L461.8 381.2 L462.1 384.4 L462.4 387.1 L462.7 392.0 L463.0 392.8 M463.3 392.9 L463.6 390.7 L463.9 397.1 M464.2 397.3 L464.5 395.8 L464.8 401.1 L465.1 397.1 L465.4 399.0 L465.7 393.1 M466.0 393.3 L466.3 395.2 L466.6 390.3 L466.9 393.0 L467.2 387.9 L467.5 375.8 L467.8 362.3 L468.1 354.4 L468.4 363.2 L468.7 371.9 L469.0 376.5 L469.3 381.9 L469.6 386.8 M469.9 386.5 L470.2 385.5 L470.5 382.1 L470.8 378.0 L471.1 377.2 L471.4 382.8 L471.7 384.1 L472.0 385.4 L472.3 389.0 M472.6 388.8 L472.9 390.2 L473.2 393.4 L473.5 396.5 L473.8 390.3 L474.1 387.9 M474.4 387.2 L474.7 382.2 L475.0 370.2 L475.3 358.5 L475.6 342.7 L475.9 352.4 L476.2 362.8 L476.5 370.0 L476.8 372.6 L477.1 379.9 L477.4 382.4 L477.7 385.0 M478.0 385.1 L478.3 389.5 L478.6 385.8 L478.9 379.4 L479.2 380.2 L479.5 386.5 L479.8 388.2 L480.1 391.2 L480.4 389.4 L480.7 395.9 M481.0 396.1 L481.3 394.4 L481.6 388.4 M481.9 388.0 L482.2 380.6 L482.5 374.7 L482.8 367.7 L483.1 351.6 M483.4 352.0 L483.7 360.1 L484.0 371.0 L484.3 373.3 L484.6 378.8 L484.9 383.8 L485.2 382.6 L485.5 388.4 L485.8 386.1 L486.1 388.6 L486.4 389.8 L486.7 397.3 L487.0 393.7 L487.3 391.5 M487.9 391.0 L488.2 389.5 L488.5 390.7 L488.8 394.7 L489.1 391.9 L489.4 389.3 L489.7 385.7 L490.0 390.0 L490.3 383.0 L490.6 375.7 L490.9 369.0 L491.2 358.1 L491.5 363.3 L491.8 367.2 L492.1 376.2 L492.4 381.8 L492.7 379.9 L493.0 383.2 L493.3 390.5 M493.6 390.1 L493.9 387.7 L494.2 395.8 L494.5 390.3 L494.8 388.8 L495.1 394.0 L495.4 398.5 L495.7 396.8 L496.0 389.2 L496.3 387.3 L496.6 388.8 L496.9 393.6 L497.2 397.4 L497.5 388.8 L497.8 390.5 L498.1 387.9 L498.4 376.9 L498.7 372.8 L499.0 357.8 L499.3 351.4 L499.6 360.3 L499.9 367.4 L500.2 374.2 L500.5 375.4 L500.8 382.8 M501.1 382.6 L501.4 390.3 M501.7 390.2 L502.0 385.2 L502.3 380.0 L502.6 383.4 L502.9 386.9 L503.2 389.2 M503.5 388.6 L503.8 386.3 L504.1 395.2 L504.4 389.3 L504.7 387.8 L505.0 393.2 L505.3 398.6 L505.6 393.4 L505.9 388.3 L506.2 382.8 L506.5 378.5 L506.8 371.9 L507.1 359.0 L507.4 342.0 L507.7 344.4 L508.0 356.0 L508.3 366.4 L508.6 369.6 L508.9 378.2 L509.2 379.4 L509.5 384.6 L509.8 388.2 M510.1 388.6 L510.4 390.7 L510.7 382.9 L511.0 378.9 L511.3 373.8 L511.6 378.3 L511.9 379.8 L512.2 382.3 L512.5 389.0 L512.8 385.1 L513.1 385.9 L513.4 389.9 L513.7 393.0 L514.0 389.4 L514.3 376.0 L514.6 364.2 L514.9 349.6 L515.2 351.9 L515.5 359.8 L515.8 369.3 L516.1 373.1 L516.4 381.1 L516.7 383.0 L517.0 387.0 L517.3 391.0 L517.6 396.8 L517.9 391.5 L518.2 395.6 L518.5 387.8 L518.8 384.5 L519.1 382.3 L519.4 375.6 L519.7 381.1 L520.0 386.5 M520.3 386.2 L520.6 391.3 L520.9 393.6 L521.2 396.2 L521.5 387.8 L521.8 378.6 L522.1 370.1 L522.4 353.5 L522.7 355.6 L523.0 362.5 L523.3 369.7 L523.6 378.8 L523.9 384.4 M524.2 383.8 L524.5 389.7 L524.8 388.5 L525.1 379.3 L525.4 376.7 L525.7 381.4 L526.0 386.1 L526.3 387.5 L526.6 389.3 M526.9 389.0 L527.2 393.8 L527.5 390.2 L527.8 388.6 L528.1 385.1 L528.4 389.6 M529.0 389.6 L529.3 383.0 L529.6 369.3 L529.9 355.0 M530.2 355.5 L530.5 362.6 L530.8 373.7 L531.1 380.2 L531.4 379.2 L531.7 380.8 L532.0 387.9 L532.3 390.1 L532.6 392.5 L532.9 396.5 L533.2 394.8 L533.5 385.7 L533.8 384.6 L534.1 376.0 M534.4 376.8 L534.7 379.3 L535.0 382.5 L535.3 384.7 L535.6 387.2 L535.9 391.2 L536.2 390.3 M536.5 390.0 L536.8 386.5 L537.1 382.5 L537.4 383.7 L537.7 372.3 L538.0 359.3 L538.3 352.1 L538.6 362.0 L538.9 365.8 L539.2 375.5 L539.5 376.3 L539.8 380.8" fill="none" stroke="#000" stroke-width="0.85" stroke-linejoin="round" stroke-linecap="round"/>
<path d="M311.2 339.2 L311.5 338.8 M313.9 377.2 L314.2 377.1 M315.1 385.2 L315.4 384.9 M319.3 384.5 L319.6 384.9 M321.4 379.2 L321.7 378.9 M326.8 383.0 L327.1 383.1 M329.5 387.7 L329.8 387.8 M334.9 390.6 L335.2 390.8 M339.1 362.2 L339.4 361.6 M341.2 394.3 L341.5 394.8 M342.4 387.6 L342.7 387.1 M343.6 390.8 L343.9 390.7 M346.6 354.4 L346.9 353.9 M347.8 379.3 L348.1 378.7 M350.5 386.2 L350.8 386.0 M351.1 389.1 L351.4 389.7 M351.7 381.7 L352.0 381.3 M353.2 391.9 L353.5 392.1 M356.8 394.0 L357.1 394.1 M357.7 394.6 L358.0 394.4 L358.3 394.8 M359.5 396.9 L359.8 397.2 M361.9 386.0 L362.2 386.3 M362.8 387.2 L363.1 387.2 M365.2 386.0 L365.5 385.3 M365.8 391.1 L366.1 390.4 L366.4 389.8 M367.3 389.0 L367.6 388.6 M367.9 393.1 L368.2 392.6 M369.4 358.1 L369.7 358.8 M370.6 380.3 L370.9 380.8 M371.8 390.2 L372.1 390.3 M381.1 391.9 L381.4 391.4 M381.7 394.8 L382.0 394.5 M386.8 390.2 L387.1 390.8 M388.3 392.9 L388.6 392.8 M391.9 359.7 L392.2 360.1 M394.6 388.9 L394.9 389.3 M397.0 388.0 L397.3 388.7 L397.6 388.1 M398.2 387.7 L398.5 387.6 M401.8 390.0 L402.1 390.4 M407.8 391.6 L408.1 390.9 M411.4 395.1 L411.7 395.2 M415.6 382.8 L415.9 383.1 M416.5 395.2 L416.8 394.6 M417.7 383.9 L418.0 383.6 M418.9 394.2 L419.2 394.2 M419.5 397.9 L419.8 398.2 M421.9 353.4 L422.2 353.9 M425.8 379.1 L426.1 379.4 M427.3 388.0 L427.6 387.9 M428.5 390.1 L428.8 389.6 M433.0 397.2 L433.3 396.5 M434.2 384.8 L434.5 384.7 M436.0 384.1 L436.3 384.5 M440.2 387.0 L440.5 387.8 M443.8 387.4 L444.1 387.1 M444.4 383.4 L444.7 383.1 M454.0 384.4 L454.3 383.9 M458.8 390.0 L459.1 389.8 M463.0 392.8 L463.3 392.9 M463.9 397.1 L464.2 397.3 M465.7 393.1 L466.0 393.3 M469.6 386.8 L469.9 386.5 M472.3 389.0 L472.6 388.8 M474.1 387.9 L474.4 387.2 M477.7 385.0 L478.0 385.1 M480.7 395.9 L481.0 396.1 M481.6 388.4 L481.9 388.0 M483.1 351.6 L483.4 352.0 M487.3 391.5 L487.6 391.3 L487.9 391.0 M493.3 390.5 L493.6 390.1 M500.8 382.8 L501.1 382.6 M501.4 390.3 L501.7 390.2 M503.2 389.2 L503.5 388.6 M509.8 388.2 L510.1 388.6 M520.0 386.5 L520.3 386.2 M523.9 384.4 L524.2 383.8 M526.6 389.3 L526.9 389.0 M528.4 389.6 L528.7 389.1 L529.0 389.6 M529.9 355.0 L530.2 355.5 M534.1 376.0 L534.4 376.8 M536.2 390.3 L536.5 390.0" fill="none" stroke="#000" stroke-width="1.25" stroke-linejoin="round" stroke-linecap="round"/>
<polyline points="49.1,484.4 49.1,515.7 83.5,515.7" fill="none" stroke="#000" stroke-width="1.4"/>
<text x="44.6" y="511.8" font-size="10" font-weight="bold" text-anchor="start" transform="rotate(-90 44.6 511.8)">0.5g</text>
<text x="54" y="526" font-size="9.9" font-weight="bold" text-anchor="start">3min</text>
<text x="150.9" y="533.5" font-size="11.55" font-weight="bold" text-anchor="start">Naive</text>
<text x="407.6" y="533.6" font-size="11.7" font-weight="bold" text-anchor="start">CYP-8d</text>
<line x1="143" y1="474.7" x2="283.4" y2="474.7" stroke="#000" stroke-width="1.7" stroke-linecap="butt"/>
<text x="195.3" y="470.2" font-size="11.1" font-weight="bold" text-anchor="start">Glivec</text>
<line x1="217.5" y1="494" x2="283.4" y2="494" stroke="#000" stroke-width="1.7" stroke-linecap="butt"/>
<text x="228.4" y="489.9" font-size="11.1" font-weight="bold" text-anchor="start">GsMTx4</text>
<line x1="390.5" y1="459.2" x2="540.2" y2="459.2" stroke="#000" stroke-width="1.7" stroke-linecap="butt"/>
<text x="450.5" y="455.5" font-size="11.1" font-weight="bold" text-anchor="start">Glivec</text>
<line x1="467" y1="479.2" x2="540.2" y2="479.2" stroke="#000" stroke-width="1.7" stroke-linecap="butt"/>
<text x="482" y="475" font-size="11.1" font-weight="bold" text-anchor="start">GsMTx4</text>
<path d="M54.4 507.9 L54.9 496.0 L55.4 508.3 L56.1 505.6 L56.7 507.8 L57.2 497.6 L57.8 507.6 L58.3 505.7 L58.9 508.6 L59.4 502.8 L60.0 508.3 L60.6 506.7 L61.2 508.5 L61.7 495.7 L62.2 508.0 L62.8 504.8 L63.3 508.2 L63.8 500.0 L64.3 508.6 L65.0 505.4 L65.7 508.0 L66.2 498.6 L66.8 508.5 L67.4 506.6 L67.9 508.4 L68.4 502.0 L69.0 509.1 L69.5 505.4 L70.1 508.9 L70.6 494.6 L71.2 508.2 L71.7 504.4 L72.2 509.0 L72.7 500.5 L73.2 508.4 L73.9 504.9 L74.5 509.0 L75.0 496.4 L75.6 508.8 L76.1 502.6 L76.7 508.6 L77.2 495.0 L77.8 509.4 L78.3 502.5 L78.9 509.0 L79.4 498.8 L80.0 509.2 L80.5 505.0 L81.0 508.9 L81.5 498.2 L82.1 509.3 L82.5 504.4 L82.9 509.5 L83.4 496.4 L84.0 509.3 L84.7 503.4 L85.4 509.1 L85.9 500.7 L86.4 509.7 L86.9 506.6 L87.4 508.6 L87.9 496.1 L88.5 509.9 L88.9 504.8 L89.3 508.6 L89.8 497.3 L90.4 509.9 L90.9 503.4 L91.4 509.8 L91.9 499.9 L92.5 509.6 L92.9 504.6 L93.3 509.4 L93.8 498.2 L94.4 510.0 L94.9 505.5 L95.3 509.2 L95.8 499.4 L96.4 509.4 L96.9 506.1 L97.3 509.8 L97.8 497.1 L98.4 510.3 L98.9 506.5 L99.4 509.1 L99.9 501.2 L100.4 509.9 L100.9 507.5 L101.3 509.8 L101.8 501.7 L102.3 510.1 L102.9 506.3 L103.5 510.1 L104.0 497.8 L104.5 509.4 L105.0 507.3 L105.5 509.6 L106.0 505.0 L106.5 510.5 L107.0 507.7 L107.4 510.1 L107.9 500.7 L108.5 509.7 L109.1 506.9 L109.8 509.7 L110.3 502.6 L110.8 510.0 L111.6 507.3 L112.3 510.2 L112.8 500.2 L113.3 510.9 L113.9 508.3 L114.4 510.1 L114.9 499.2 L115.5 510.6 L116.2 508.3 L116.9 510.4 L117.4 503.1 L117.9 511.1 L118.4 507.7 L119.0 511.0 L119.5 500.8 L120.0 510.5 L120.5 508.7 L121.0 510.4 L121.5 502.3 L122.1 510.2 L122.6 506.5 L123.0 510.7 L123.5 502.0 L124.1 510.7 L124.7 506.8 L125.3 510.9 L125.8 502.5 L126.3 510.5 L127.0 507.3 L127.6 510.5 L128.1 500.1 L128.7 510.4 L129.1 506.6 L129.6 510.9 L130.1 500.7 L130.6 511.3 L131.2 507.3 L131.9 511.1 L132.4 501.4 L132.9 510.6 L133.5 507.5 L134.0 511.3 L134.5 505.0 L135.1 511.7 L135.7 508.0 L136.4 511.1 L136.9 502.6 L137.4 511.5 L138.0 508.7 L138.6 511.2 L139.1 502.1 L139.6 511.7 L140.2 507.1 L140.7 510.7 L141.2 502.2 L141.8 511.1 L142.3 509.5 L142.8 511.7 L143.3 506.8 L143.8 511.5 L144.4 509.2 L144.9 511.2 L145.4 505.1 L146.0 511.3 L146.6 509.1 L147.1 511.3 L147.6 506.3 L148.2 512.0 L148.7 508.9 L149.1 512.1 L149.6 506.0 L150.2 511.8 L150.7 509.0 L151.2 511.3 L151.7 502.3 L152.2 512.3 L152.8 507.2 L153.5 511.7 L154.0 507.1 L154.5 511.4 L155.2 510.0 L155.9 511.5 L156.4 505.9 L157.0 511.3 L157.7 508.8 L158.3 511.8 L158.8 505.8 L159.4 511.4 L159.8 509.4 L160.3 512.2 L160.8 505.4 L161.4 512.0 L161.8 510.4 L162.3 512.0 L162.8 503.5 L163.3 512.2 L164.0 509.8 L164.6 512.0 L165.1 506.2 L165.6 512.4 L166.1 509.6 L166.6 511.7 L167.1 504.8 L167.6 511.8 L168.4 509.8 L169.1 511.3 L169.6 503.5 L170.1 512.3 L170.6 510.2 L171.0 511.4 L171.5 506.9 L172.1 511.8 L172.7 510.8 L173.3 511.5 L173.8 505.1 L174.3 511.4 L174.8 509.0 L175.2 511.2 L175.7 507.0 L176.3 512.0 L176.8 510.3 L177.4 511.5 L177.9 504.4 L178.5 512.4 L179.0 510.3 L179.5 511.5 L180.0 506.1 L180.5 511.5 L181.1 509.8 L181.6 511.5 L182.1 508.0 L182.7 511.8 L183.1 510.7 L183.5 511.9 L184.0 505.5 L184.6 512.1 L185.1 509.2 L185.7 512.0 L186.2 504.8 L186.7 512.1 L187.3 510.4 L187.9 511.3 L188.4 505.3 L189.0 512.3 L189.6 509.6 L190.2 511.8 L190.7 505.0 L191.2 512.5 L191.8 508.5 L192.3 511.8 L192.8 505.8 L193.4 512.3 L193.9 508.9 L194.5 511.9 L195.0 507.0 L195.5 512.1 L196.2 510.6 L196.8 512.4 L197.3 507.7 L197.8 511.5 L198.3 510.8 L198.8 512.1 L199.3 508.0 L199.9 511.8 L200.6 511.0 L201.2 512.1 L201.7 506.6 L202.3 512.4 L202.9 509.9 L203.6 512.4 L204.1 508.8 L204.6 511.7 L205.3 510.9 L206.0 512.3 L206.5 505.9 L207.0 512.5 L207.7 510.5 L208.4 511.6 L208.9 506.4 L209.5 512.6 L210.2 509.4 L210.8 511.5 L211.3 506.4 L211.9 511.8 L212.6 509.5 L213.3 512.3 L213.8 508.7 L214.3 512.6 L214.9 510.9 L215.4 512.6 L215.9 508.1 L216.4 512.3 L217.1 510.8 L217.7 512.3 L218.2 509.8 L218.8 511.9 L219.4 511.0 L220.0 511.9 L220.5 508.8 L221.0 511.6 L221.6 510.8 L222.2 512.2 L222.7 508.4 L223.2 511.8 L224.0 510.3 L224.7 511.5 L225.2 508.5 L225.7 511.7 M227.1 511.8 L227.6 508.0 L228.2 512.3 L228.8 511.1 M229.4 511.5 L229.9 508.6 L230.5 512.4 L231.0 510.2 L231.4 511.4 L231.9 506.7 L232.5 511.8 L233.1 510.0 L233.8 512.2 L234.3 507.3 L234.8 511.7 L235.3 509.9 L235.7 512.6 L236.2 508.4 L236.7 512.6 L237.4 510.4 L238.1 512.0 L238.6 507.6 L239.1 512.3 L239.7 510.5 L240.3 512.6 L240.8 507.0 L241.3 512.7 L242.0 509.7 L242.6 512.3 L243.1 507.7 L243.6 512.7 L244.2 510.9 L244.8 511.8 L245.3 507.1 L245.8 512.3 L246.5 510.5 L247.3 512.5 L247.8 506.5 L248.3 512.0 L248.9 510.1 L249.6 512.5 L250.1 505.4 L250.6 512.8 L251.2 510.8 L251.8 512.2 L252.3 506.4 L252.8 511.7 L253.4 509.9 L254.0 511.9 L254.5 505.8 L255.0 511.8 L255.6 510.4 L256.2 512.4 L256.7 504.5 L257.3 512.6 L257.8 508.8 L258.4 511.5 L258.9 505.6 L259.5 512.7 L260.0 510.7 L260.5 512.5 L261.0 504.6 L261.6 511.6 L262.1 510.3 L262.6 512.5 L263.1 504.8 L263.7 512.6 L264.3 510.3 L265.0 511.8 L265.5 505.2 L266.0 511.6 L266.6 510.3 L267.2 512.6 L267.7 502.4 L268.2 512.5 L268.7 510.3 L269.3 512.3 L269.8 505.5 L270.3 511.8 L270.8 510.1 L271.3 511.5 L271.8 506.3 L272.4 511.7 L272.9 510.2 L273.4 511.8 L273.9 504.3 L274.5 511.7 L275.0 508.6 L275.5 512.5 L276.0 506.7 L276.5 512.7 L277.1 510.2 L277.6 512.3 L278.1 505.9 L278.6 511.9 L279.3 509.2 L280.0 512.1 L280.5 505.5 L281.1 511.9 L281.6 509.7 L282.1 512.3 L282.6 506.7 L283.2 512.1 L283.6 510.1 L284.1 511.9 L284.6 505.2 L285.1 512.5" fill="none" stroke="#000" stroke-width="0.85" stroke-linejoin="round" stroke-linecap="round"/>
<path d="M225.7 511.7 L226.4 511.3 L227.1 511.8 M228.8 511.1 L229.4 511.5" fill="none" stroke="#000" stroke-width="0.85" stroke-linejoin="round" stroke-linecap="round"/>
<path d="M310.0 509.1 L310.3 510.5 L310.6 508.3 L310.9 504.3 L311.2 502.1 L311.5 496.0 L311.8 482.0 L312.1 475.9 L312.4 483.6 L312.7 489.2 L313.0 496.5 L313.3 503.6 L313.6 506.2 M313.9 506.4 L314.2 510.8 L314.5 508.3 L314.8 505.1 L315.1 499.9 L315.4 502.2 L315.7 505.0 L316.0 507.6 M316.3 508.2 L316.6 511.7 L316.9 506.4 M317.2 506.1 L317.5 497.0 L317.8 486.6 L318.1 481.6 L318.4 487.4 L318.7 494.3 L319.0 497.4 L319.3 504.3 M319.6 504.2 L319.9 509.4 L320.2 511.6 M320.8 512.6 L321.1 509.6 L321.4 511.3 L321.7 508.7 L322.0 512.2 L322.3 513.3 L322.6 509.9 M322.9 509.9 L323.2 506.8 M323.5 506.9 L323.8 502.3 L324.1 491.1 L324.4 480.2 L324.7 481.4 L325.0 487.3 L325.3 495.7 L325.6 499.0 L325.9 500.9 L326.2 503.3 L326.5 508.7 L326.8 507.8 L327.1 511.8 L327.4 510.7 L327.7 508.6 L328.0 512.5 L328.3 510.6 L328.6 509.0 L328.9 507.8 L329.2 509.0 M329.5 509.7 L329.8 508.9 L330.1 506.5 L330.4 498.1 L330.7 487.0 L331.0 473.5 L331.3 464.7 L331.6 475.2 L331.9 485.8 L332.2 493.2 L332.5 499.8 L332.8 501.8 L333.1 504.0 L333.4 507.5 L333.7 511.9 L334.0 513.5 L334.3 510.0 L334.6 511.6 L334.9 510.1 M335.5 509.7 L335.8 513.4 L336.1 510.0 L336.4 508.1 L336.7 502.7 L337.0 499.2 L337.3 487.9 L337.6 484.2 L337.9 489.2 L338.2 494.4 L338.5 498.0 L338.8 502.4 L339.1 508.3 M340.0 509.0 L340.3 505.0 L340.6 502.9 L340.9 506.1 L341.2 508.8 L341.5 507.3 L341.8 510.9 L342.1 512.4 M342.4 511.9 L342.7 508.7 L343.0 502.3 L343.3 497.4 L343.6 488.1 M343.9 488.4 L344.2 494.5 L344.5 497.7 L344.8 501.7 L345.1 505.8 L345.4 509.7 L345.7 512.2 M346.0 512.6 L346.3 507.5 L346.6 504.5 L346.9 500.5 M347.2 500.8 L347.5 502.9 L347.8 505.9 L348.1 510.5 L348.4 508.8 L348.7 508.0 L349.0 503.0 L349.3 493.9 L349.6 490.4 L349.9 495.8 L350.2 497.7 L350.5 502.6 L350.8 507.5 M351.1 507.1 L351.4 508.0 M351.7 507.7 L352.0 512.1 M352.9 512.0 L353.2 513.9 L353.5 511.9 L353.8 511.0 L354.1 509.1 L354.4 505.5 L354.7 503.0 L355.0 491.9 L355.3 476.0 L355.6 467.7 L355.9 477.5 L356.2 484.9 L356.5 493.2 L356.8 497.9 L357.1 502.5 L357.4 504.5 L357.7 506.2 L358.0 505.1 L358.3 500.3 L358.6 498.3 L358.9 502.7 L359.2 504.2 L359.5 509.1 M359.8 509.3 L360.1 507.1 M360.4 506.5 L360.7 499.7 L361.0 491.3 L361.3 486.6 L361.6 491.4 L361.9 498.5 L362.2 501.9 L362.5 504.5 L362.8 507.4 L363.1 506.5 M363.4 507.2 L363.7 510.6 L364.0 507.8 L364.3 502.6 L364.6 498.5 L364.9 499.6 L365.2 503.4 L365.5 507.7 L365.8 510.4 L366.1 503.5 L366.4 498.6 L366.7 484.2 L367.0 470.9 L367.3 478.3 L367.6 486.8 L367.9 493.9 L368.2 499.1 L368.5 504.6 M368.8 505.2 L369.1 507.5 L369.4 509.1 L369.7 507.2 L370.0 502.4 L370.3 503.7 L370.6 506.2 L370.9 507.3 L371.2 509.4 L371.5 512.7 L371.8 510.0 L372.1 512.3 M372.4 512.1 L372.7 507.5 L373.0 501.7 L373.3 492.7 L373.6 482.8 L373.9 484.0 L374.2 489.9 L374.5 495.0 L374.8 501.8 L375.1 502.8 L375.4 506.6 L375.7 509.8 M376.0 510.0 L376.3 509.2 L376.6 511.1 L376.9 510.2 L377.2 512.0 L377.5 513.2 M377.8 513.1 L378.1 512.1 L378.4 506.5 L378.7 502.7 L379.0 497.5 L379.3 487.1 L379.6 482.1 L379.9 487.9 L380.2 492.6 L380.5 497.0 L380.8 500.4 L381.1 505.4 L381.4 506.8 M381.7 506.3 L382.0 511.7 L382.3 508.5 L382.6 509.5 L382.9 512.4 M383.2 512.7 L383.5 510.1 L383.8 513.8 L384.1 511.6 L384.4 513.0 L384.7 510.5 M385.0 510.0 L385.3 508.9 L385.6 499.9 L385.9 492.9 L386.2 483.8 L386.5 489.6 L386.8 495.0 L387.1 498.5 L387.4 501.2 L387.7 505.6 M388.0 506.0 L388.3 507.8 L388.6 512.3 L388.9 509.3 M389.2 508.9 L389.5 511.7 M389.8 511.4 L390.1 513.8 L390.4 510.9 L390.7 512.5 L391.0 510.4 L391.3 512.0 L391.6 509.5 L391.9 501.2 L392.2 493.7 L392.5 485.4 L392.8 490.0 L393.1 495.7 L393.4 500.8 L393.7 502.2 L394.0 506.6 L394.3 509.8 M395.2 508.9 L395.5 511.2 L395.8 515.5 M396.1 515.8 L396.4 511.6 L396.7 514.9 L397.0 507.6 L397.3 509.0 M397.6 509.0 L397.9 503.1 L398.2 499.9 L398.5 493.8 L398.8 497.2 L399.1 499.5 L399.4 503.0 L399.7 506.8 L400.0 508.7 L400.3 510.3 L400.6 507.6 L400.9 511.2 L401.2 514.5 M401.5 514.5 L401.8 509.9 L402.1 512.8 L402.4 506.7 L402.7 514.7 L403.0 513.5 L403.3 507.2 L403.6 508.2 L403.9 503.0 L404.2 499.7 L404.5 494.2 L404.8 489.9 L405.1 494.3 L405.4 496.6 L405.7 499.7 L406.0 502.4 M406.6 503.3 L406.9 511.7 L407.2 515.2 L407.5 511.5 L407.8 505.1 L408.1 502.9 M408.4 502.8 L408.7 506.0 L409.0 511.7 L409.3 514.6 L409.6 507.6 L409.9 510.9 L410.2 508.4 L410.5 504.8 L410.8 498.6 L411.1 495.3 L411.4 497.1 L411.7 498.7 L412.0 501.7 L412.3 505.4 L412.6 504.6 L412.9 506.1 M413.5 506.7 L413.8 504.9 L414.1 503.2 L414.4 504.2 L414.7 505.5 M415.3 506.7 L415.6 502.7 L415.9 501.0 L416.2 497.0 L416.5 495.5 M416.8 495.3 L417.1 498.4 L417.4 499.7 L417.7 504.1 L418.0 507.8 L418.3 508.6 L418.6 504.3 L418.9 506.3 M419.2 507.0 L419.5 509.9 L419.8 503.7 L420.1 506.8 L420.4 505.4 L420.7 504.2 L421.0 498.8 L421.3 494.1 M421.6 494.6 L421.9 497.8 L422.2 500.8 L422.5 506.6 M422.8 506.0 L423.1 511.7 M423.4 512.1 L423.7 509.5 L424.0 510.5 L424.3 509.2 L424.6 514.8 L424.9 507.4 L425.2 510.3 L425.5 509.5 M425.8 510.1 L426.1 504.2 M426.4 504.7 L426.7 499.4 L427.0 496.7 L427.3 497.5 L427.6 498.7 L427.9 505.6 L428.2 504.3 L428.5 510.4 L428.8 511.2 L429.1 514.3 L429.4 512.6 M430.0 512.0 L430.3 513.0 L430.6 511.1 L430.9 509.8 L431.2 512.5 L431.5 515.1 M432.1 515.0 L432.4 509.4 L432.7 503.6 L433.0 500.6 L433.3 493.9 L433.6 491.2 L433.9 494.4 M434.2 494.6 L434.5 497.0 L434.8 503.6 L435.1 502.2 M435.4 502.3 L435.7 507.3 L436.0 504.2 L436.3 505.9 L436.6 511.0 L436.9 507.8 M437.2 507.7 L437.5 511.6 L437.8 508.8 L438.1 511.1 M438.4 511.4 L438.7 514.7 L439.0 511.8 L439.3 509.6 L439.6 510.5 L439.9 507.5 L440.2 504.8 L440.5 500.9 L440.8 505.3 L441.1 508.1 L441.4 509.8 L441.7 510.8 M442.0 510.6 L442.3 505.4 L442.6 504.2 M443.2 504.4 L443.5 507.6 L443.8 506.7 L444.1 508.6 L444.4 513.5 L444.7 509.9 L445.0 506.7 L445.3 511.9 M445.6 511.7 L445.9 513.0 L446.2 505.8 L446.5 504.0 L446.8 500.7 L447.1 499.8 L447.4 502.6 L447.7 501.3 L448.0 505.5 L448.3 507.1 L448.6 510.1 L448.9 509.3 L449.2 510.6 L449.5 508.5 L449.8 506.6 L450.1 508.6 L450.4 510.5 L450.7 506.3 L451.0 510.5 L451.3 503.1 L451.6 497.6 L451.9 494.0 M452.2 493.6 L452.5 497.2 L452.8 499.8 L453.1 504.9 L453.4 507.6 L453.7 510.4 L454.0 511.6 L454.3 508.2 L454.6 509.6 L454.9 507.9 M455.2 507.6 L455.5 506.4 L455.8 507.4 L456.1 509.2 L456.4 506.6 M457.0 506.1 L457.3 501.1 L457.6 496.2 L457.9 498.2 L458.2 501.0 M458.5 501.7 L458.8 506.3 L459.1 508.2 L459.4 509.9 L459.7 509.1 L460.0 513.9 L460.3 511.9 L460.6 508.5 L460.9 504.6 L461.2 506.3 L461.5 507.5 L461.8 504.5 M462.1 503.7 L462.4 500.3 L462.7 498.2 M463.0 498.1 L463.3 501.0 L463.6 504.6 L463.9 506.2 L464.2 511.2 L464.5 511.9 L464.8 506.4 L465.1 512.1 L465.4 514.9 L465.7 509.0 L466.0 508.0 L466.3 507.2 L466.6 508.9 L466.9 515.7 L467.2 514.4 L467.5 506.5 L467.8 503.7 L468.1 501.4 L468.4 502.4 L468.7 498.7 L469.0 501.2 L469.3 502.0 L469.6 504.3 L469.9 507.6 L470.2 511.6 L470.5 506.0 L470.8 508.9 L471.1 513.4 M471.7 513.8 L472.0 509.9 L472.3 505.3 L472.6 507.1 M472.9 507.8 L473.2 506.2 L473.5 501.9 M473.8 501.3 L474.1 503.7 L474.4 505.3 L474.7 509.6 L475.0 508.3 L475.3 510.4 M475.6 510.3 L475.9 508.5 L476.2 514.6 L476.5 508.7 L476.8 509.6 L477.1 514.2 L477.4 511.0 L477.7 507.6 L478.0 504.8 L478.3 503.2 M478.6 503.3 L478.9 499.3 L479.2 501.4 L479.5 502.9 L479.8 504.0 M480.1 503.4 L480.4 507.0 L480.7 511.2 M481.0 511.0 L481.3 506.7 L481.6 504.6 M481.9 504.7 L482.2 508.6 M482.5 508.4 L482.8 511.4 L483.1 510.5 L483.4 506.8 L483.7 499.1 L484.0 495.9 L484.3 491.0 M484.6 490.6 L484.9 493.2 L485.2 495.8 L485.5 498.5 L485.8 502.6 L486.1 503.7 M486.4 503.2 L486.7 505.2 L487.0 501.1 L487.3 503.6 L487.6 507.7 L487.9 506.3 L488.2 507.6 L488.5 503.6 L488.8 507.4 M489.1 506.7 L489.4 500.4 L489.7 495.5 L490.0 492.7 L490.3 489.1 L490.6 494.9 L490.9 495.7 L491.2 498.5 L491.5 503.4 L491.8 508.9 L492.1 510.2 L492.4 505.8 L492.7 506.6 L493.0 503.6 M493.9 504.4 L494.2 502.4 M494.5 501.7 L494.8 495.4 L495.1 496.2 L495.4 499.0 L495.7 502.3 M496.0 502.9 L496.3 507.3 L496.6 510.9 L496.9 509.3 L497.2 511.3 L497.5 512.2 L497.8 514.6 M498.1 514.9 L498.4 511.5 L498.7 509.0 L499.0 503.5 L499.3 502.6 L499.6 500.0 L499.9 497.5 M500.2 496.9 L500.5 498.0 L500.8 500.9 L501.1 506.9 M501.4 506.7 L501.7 511.2 L502.0 505.0 L502.3 503.2 M502.6 502.7 L502.9 505.1 L503.2 507.1 L503.5 509.4 L503.8 515.9 L504.1 508.0 L504.4 509.6 L504.7 505.5 L505.0 508.3 L505.3 503.2 M505.6 503.2 L505.9 498.5 L506.2 495.4 M506.5 496.0 L506.8 501.2 L507.1 499.7 L507.4 505.1 L507.7 506.9 M508.0 506.4 L508.3 508.5 L508.6 505.9 L508.9 501.5 L509.2 505.3 L509.5 509.4 L509.8 507.5 L510.1 504.5 L510.4 495.7 L510.7 488.0 L511.0 484.2 L511.3 487.6 L511.6 491.9 M511.9 492.4 L512.2 497.9 L512.5 502.5 M512.8 502.4 L513.1 506.9 M513.4 507.4 L513.7 508.5 L514.0 511.7 L514.3 510.5 L514.6 512.0 L514.9 509.7 L515.2 503.1 L515.5 499.8 L515.8 498.7 L516.1 493.5 L516.4 490.0 M516.7 490.1 L517.0 495.2 L517.3 501.6 M517.6 501.8 L517.9 503.1 L518.2 505.0 L518.5 509.5 L518.8 505.3 L519.1 504.0 M519.7 503.2 L520.0 506.5 M520.3 505.8 L520.6 504.6 L520.9 509.7 L521.2 507.3 L521.5 501.5 L521.8 497.6 L522.1 492.7 L522.4 493.8 L522.7 497.2 L523.0 502.4 L523.3 503.2 L523.6 506.5 L523.9 503.7 L524.2 510.6 L524.5 505.2 L524.8 506.8 L525.1 509.3 L525.4 514.4 L525.7 510.3 L526.0 511.9 L526.3 514.7 L526.6 511.7 L526.9 507.9 L527.2 506.6 L527.5 507.5 L527.8 502.2 L528.1 499.6 L528.4 500.9 L528.7 497.0 L529.0 499.4 L529.3 500.4 L529.6 501.3 L529.9 508.8 L530.2 504.8 L530.5 508.0 M531.1 508.2 L531.4 505.8 L531.7 510.3 L532.0 511.7 L532.3 508.0 L532.6 506.4 L532.9 502.2 L533.2 496.3 M533.5 497.0 L533.8 498.9 L534.1 503.0 L534.4 505.2 L534.7 503.3 L535.0 507.3 L535.3 510.1 L535.6 512.6 L535.9 505.4 L536.2 504.0 L536.5 501.9 L536.8 504.1 L537.1 507.5 M537.4 508.1 L537.7 505.6 L538.0 503.3 L538.3 500.2 L538.6 501.8 M538.9 502.0 L539.2 506.2 L539.5 504.6 L539.8 507.0 L540.1 504.5" fill="none" stroke="#000" stroke-width="0.85" stroke-linejoin="round" stroke-linecap="round"/>
<path d="M313.6 506.2 L313.9 506.4 M316.0 507.6 L316.3 508.2 M316.9 506.4 L317.2 506.1 M319.3 504.3 L319.6 504.2 M320.2 511.6 L320.5 512.3 L320.8 512.6 M322.6 509.9 L322.9 509.9 M323.2 506.8 L323.5 506.9 M329.2 509.0 L329.5 509.7 M334.9 510.1 L335.2 510.2 L335.5 509.7 M339.1 508.3 L339.4 507.9 L339.7 508.4 L340.0 509.0 M342.1 512.4 L342.4 511.9 M343.6 488.1 L343.9 488.4 M345.7 512.2 L346.0 512.6 M346.9 500.5 L347.2 500.8 M350.8 507.5 L351.1 507.1 M351.4 508.0 L351.7 507.7 M352.0 512.1 L352.3 511.6 L352.6 511.9 L352.9 512.0 M359.5 509.1 L359.8 509.3 M360.1 507.1 L360.4 506.5 M363.1 506.5 L363.4 507.2 M368.5 504.6 L368.8 505.2 M372.1 512.3 L372.4 512.1 M375.7 509.8 L376.0 510.0 M377.5 513.2 L377.8 513.1 M381.4 506.8 L381.7 506.3 M382.9 512.4 L383.2 512.7 M384.7 510.5 L385.0 510.0 M387.7 505.6 L388.0 506.0 M388.9 509.3 L389.2 508.9 M389.5 511.7 L389.8 511.4 M394.3 509.8 L394.6 509.3 L394.9 508.8 L395.2 508.9 M395.8 515.5 L396.1 515.8 M397.3 509.0 L397.6 509.0 M401.2 514.5 L401.5 514.5 M406.0 502.4 L406.3 503.0 L406.6 503.3 M408.1 502.9 L408.4 502.8 M412.9 506.1 L413.2 506.7 L413.5 506.7 M414.7 505.5 L415.0 506.0 L415.3 506.7 M416.5 495.5 L416.8 495.3 M418.9 506.3 L419.2 507.0 M421.3 494.1 L421.6 494.6 M422.5 506.6 L422.8 506.0 M423.1 511.7 L423.4 512.1 M425.5 509.5 L425.8 510.1 M426.1 504.2 L426.4 504.7 M429.4 512.6 L429.7 512.3 L430.0 512.0 M431.5 515.1 L431.8 515.0 L432.1 515.0 M433.9 494.4 L434.2 494.6 M435.1 502.2 L435.4 502.3 M436.9 507.8 L437.2 507.7 M438.1 511.1 L438.4 511.4 M441.7 510.8 L442.0 510.6 M442.6 504.2 L442.9 504.1 L443.2 504.4 M445.3 511.9 L445.6 511.7 M451.9 494.0 L452.2 493.6 M454.9 507.9 L455.2 507.6 M456.4 506.6 L456.7 506.7 L457.0 506.1 M458.2 501.0 L458.5 501.7 M461.8 504.5 L462.1 503.7 M462.7 498.2 L463.0 498.1 M471.1 513.4 L471.4 514.1 L471.7 513.8 M472.6 507.1 L472.9 507.8 M473.5 501.9 L473.8 501.3 M475.3 510.4 L475.6 510.3 M478.3 503.2 L478.6 503.3 M479.8 504.0 L480.1 503.4 M480.7 511.2 L481.0 511.0 M481.6 504.6 L481.9 504.7 M482.2 508.6 L482.5 508.4 M484.3 491.0 L484.6 490.6 M486.1 503.7 L486.4 503.2 M488.8 507.4 L489.1 506.7 M493.0 503.6 L493.3 503.3 L493.6 503.7 L493.9 504.4 M494.2 502.4 L494.5 501.7 M495.7 502.3 L496.0 502.9 M497.8 514.6 L498.1 514.9 M499.9 497.5 L500.2 496.9 M501.1 506.9 L501.4 506.7 M502.3 503.2 L502.6 502.7 M505.3 503.2 L505.6 503.2 M506.2 495.4 L506.5 496.0 M507.7 506.9 L508.0 506.4 M511.6 491.9 L511.9 492.4 M512.5 502.5 L512.8 502.4 M513.1 506.9 L513.4 507.4 M516.4 490.0 L516.7 490.1 M517.3 501.6 L517.6 501.8 M519.1 504.0 L519.4 503.9 L519.7 503.2 M520.0 506.5 L520.3 505.8 M530.5 508.0 L530.8 507.9 L531.1 508.2 M533.2 496.3 L533.5 497.0 M537.1 507.5 L537.4 508.1 M538.6 501.8 L538.9 502.0" fill="none" stroke="#000" stroke-width="1.2" stroke-linejoin="round" stroke-linecap="round"/>
<line x1="603.4" y1="18.3" x2="603.4" y2="97.5" stroke="#000" stroke-width="1.0" stroke-linecap="butt"/>
<line x1="602.9" y1="97.0" x2="760.6" y2="97.0" stroke="#000" stroke-width="1.0" stroke-linecap="butt"/>
<line x1="601.0" y1="18.8" x2="603.4" y2="18.8" stroke="#000" stroke-width="1.0" stroke-linecap="butt"/>
<text x="600.5" y="20.816000000000003" font-size="5.6" font-weight="bold" text-anchor="end">100</text>
<line x1="601.0" y1="34.5" x2="603.4" y2="34.5" stroke="#000" stroke-width="1.0" stroke-linecap="butt"/>
<text x="600.5" y="36.516" font-size="5.6" font-weight="bold" text-anchor="end">80</text>
<line x1="601.0" y1="50.2" x2="603.4" y2="50.2" stroke="#000" stroke-width="1.0" stroke-linecap="butt"/>
<text x="600.5" y="52.216" font-size="5.6" font-weight="bold" text-anchor="end">60</text>
<line x1="601.0" y1="65.8" x2="603.4" y2="65.8" stroke="#000" stroke-width="1.0" stroke-linecap="butt"/>
<text x="600.5" y="67.816" font-size="5.6" font-weight="bold" text-anchor="end">40</text>
<line x1="601.0" y1="81.5" x2="603.4" y2="81.5" stroke="#000" stroke-width="1.0" stroke-linecap="butt"/>
<text x="600.5" y="83.516" font-size="5.6" font-weight="bold" text-anchor="end">20</text>
<line x1="601.0" y1="97.1" x2="603.4" y2="97.1" stroke="#000" stroke-width="1.0" stroke-linecap="butt"/>
<text x="600.5" y="99.116" font-size="5.6" font-weight="bold" text-anchor="end">0</text>
<line x1="642.6" y1="97.0" x2="642.6" y2="99.4" stroke="#000" stroke-width="1.0" stroke-linecap="butt"/>
<line x1="720.6" y1="97.0" x2="720.6" y2="99.4" stroke="#000" stroke-width="1.0" stroke-linecap="butt"/>
<text x="586.3" y="58" font-size="6.3" font-weight="bold" text-anchor="middle" transform="rotate(-90 586.3 58)">Maximum BP (cmH <tspan font-size="4.2" dy="1">2</tspan><tspan dy="-1" font-style="italic">O)</tspan></text>
<line x1="617.8499999999999" y1="65.2" x2="617.8499999999999" y2="70" stroke="#000" stroke-width="1.0" stroke-linecap="butt"/>
<line x1="614.0509999999999" y1="65.2" x2="621.6489999999999" y2="65.2" stroke="#000" stroke-width="1.0" stroke-linecap="butt"/>
<rect x="611.3" y="70" width="13.10" height="27.00" fill="#fff" stroke="#000" stroke-width="1.0"/>
<line x1="633.95" y1="72.5" x2="633.95" y2="75.6" stroke="#000" stroke-width="1.0" stroke-linecap="butt"/>
<line x1="630.0930000000001" y1="72.5" x2="637.807" y2="72.5" stroke="#000" stroke-width="1.0" stroke-linecap="butt"/>
<rect x="627.3" y="75.6" width="13.30" height="21.40" fill="#808080" stroke="#000" stroke-width="1.0"/>
<line x1="650.4" y1="63.4" x2="650.4" y2="69.8" stroke="#000" stroke-width="1.0" stroke-linecap="butt"/>
<line x1="646.688" y1="63.4" x2="654.112" y2="63.4" stroke="#000" stroke-width="1.0" stroke-linecap="butt"/>
<rect x="644" y="69.8" width="12.80" height="27.20" fill="#fff" stroke="#000" stroke-width="1.0"/>
<line x1="666.9" y1="65.2" x2="666.9" y2="70.3" stroke="#000" stroke-width="1.0" stroke-linecap="butt"/>
<line x1="663.188" y1="65.2" x2="670.612" y2="65.2" stroke="#000" stroke-width="1.0" stroke-linecap="butt"/>
<rect x="660.5" y="70.3" width="12.80" height="26.70" fill="#000" stroke="#000" stroke-width="1.0"/>
<line x1="696.0" y1="34.1" x2="696.0" y2="47.4" stroke="#000" stroke-width="1.0" stroke-linecap="butt"/>
<line x1="692.172" y1="34.1" x2="699.828" y2="34.1" stroke="#000" stroke-width="1.0" stroke-linecap="butt"/>
<rect x="689.4" y="47.4" width="13.20" height="49.60" fill="#fff" stroke="#000" stroke-width="1.0"/>
<line x1="712.45" y1="51.6" x2="712.45" y2="61.5" stroke="#000" stroke-width="1.0" stroke-linecap="butt"/>
<line x1="708.6510000000001" y1="51.6" x2="716.249" y2="51.6" stroke="#000" stroke-width="1.0" stroke-linecap="butt"/>
<rect x="705.9" y="61.5" width="13.10" height="35.50" fill="#808080" stroke="#000" stroke-width="1.0"/>
<line x1="728.8" y1="45" x2="728.8" y2="51.6" stroke="#000" stroke-width="1.0" stroke-linecap="butt"/>
<line x1="724.972" y1="45" x2="732.6279999999999" y2="45" stroke="#000" stroke-width="1.0" stroke-linecap="butt"/>
<rect x="722.2" y="51.6" width="13.20" height="45.40" fill="#fff" stroke="#000" stroke-width="1.0"/>
<line x1="745.2" y1="44.4" x2="745.2" y2="51" stroke="#000" stroke-width="1.0" stroke-linecap="butt"/>
<line x1="741.3720000000001" y1="44.4" x2="749.028" y2="44.4" stroke="#000" stroke-width="1.0" stroke-linecap="butt"/>
<rect x="738.6" y="51" width="13.20" height="46.00" fill="#000" stroke="#000" stroke-width="1.0"/>
<polyline points="617.3,62.8 617.3,56.6 634,56.6 634,70.3" fill="none" stroke="#1a1a1a" stroke-width="0.75"/>
<text x="625.65" y="58.4" font-size="14.5" font-weight="bold" text-anchor="middle">***</text>
<polyline points="650.3,61.5 650.3,56.3 667,56.3 667,61.5" fill="none" stroke="#1a1a1a" stroke-width="0.75"/>
<text x="658.65" y="53" font-size="8.4" font-weight="bold" text-anchor="middle">n.s.</text>
<polyline points="695.3,31.9 695.3,27.2 712.5,27.2 712.5,47.8" fill="none" stroke="#1a1a1a" stroke-width="0.75"/>
<text x="703.9" y="28.6" font-size="14.5" font-weight="bold" text-anchor="middle">***</text>
<polyline points="728.8,42.2 728.8,36.6 745.6,36.6 745.6,42.2" fill="none" stroke="#1a1a1a" stroke-width="0.75"/>
<text x="737.2" y="33.1" font-size="8.4" font-weight="bold" text-anchor="middle">n.s.</text>
<rect x="760.6" y="16.9" width="8.6" height="4.70" fill="#fff" stroke="#000" stroke-width="0.95"/>
<rect x="760.6" y="24" width="8.6" height="4.60" fill="#808080" stroke="#000" stroke-width="0.95"/>
<rect x="760.6" y="31.1" width="8.6" height="4.50" fill="#000" stroke="#000" stroke-width="0.95"/>
<text x="773.8" y="21.2" font-size="6.2" font-weight="bold" text-anchor="start">Saline</text>
<text x="773.8" y="28" font-size="6.2" font-weight="bold" text-anchor="start">GsMTx4</text>
<text x="773.8" y="35.2" font-size="6.2" font-weight="bold" text-anchor="start">DMSO</text>
<text x="642" y="107" font-size="6.3" font-weight="bold" text-anchor="middle">Naive</text>
<text x="719.3" y="107" font-size="6.3" font-weight="bold" text-anchor="middle">CYP-8d</text>
<line x1="604.7" y1="123.3" x2="604.7" y2="201.8" stroke="#000" stroke-width="1.0" stroke-linecap="butt"/>
<line x1="604.2" y1="201.3" x2="759.7" y2="201.3" stroke="#000" stroke-width="1.0" stroke-linecap="butt"/>
<line x1="602.3000000000001" y1="123.8" x2="604.7" y2="123.8" stroke="#000" stroke-width="1.0" stroke-linecap="butt"/>
<text x="601.8000000000001" y="125.816" font-size="5.6" font-weight="bold" text-anchor="end">500</text>
<line x1="602.3000000000001" y1="139.3" x2="604.7" y2="139.3" stroke="#000" stroke-width="1.0" stroke-linecap="butt"/>
<text x="601.8000000000001" y="141.316" font-size="5.6" font-weight="bold" text-anchor="end">400</text>
<line x1="602.3000000000001" y1="154.7" x2="604.7" y2="154.7" stroke="#000" stroke-width="1.0" stroke-linecap="butt"/>
<text x="601.8000000000001" y="156.71599999999998" font-size="5.6" font-weight="bold" text-anchor="end">300</text>
<line x1="602.3000000000001" y1="170.25" x2="604.7" y2="170.25" stroke="#000" stroke-width="1.0" stroke-linecap="butt"/>
<text x="601.8000000000001" y="172.266" font-size="5.6" font-weight="bold" text-anchor="end">200</text>
<line x1="602.3000000000001" y1="185.8" x2="604.7" y2="185.8" stroke="#000" stroke-width="1.0" stroke-linecap="butt"/>
<text x="601.8000000000001" y="187.816" font-size="5.6" font-weight="bold" text-anchor="end">100</text>
<line x1="602.3000000000001" y1="201.3" x2="604.7" y2="201.3" stroke="#000" stroke-width="1.0" stroke-linecap="butt"/>
<text x="601.8000000000001" y="203.316" font-size="5.6" font-weight="bold" text-anchor="end">0</text>
<line x1="642.6" y1="201.3" x2="642.6" y2="203.70000000000002" stroke="#000" stroke-width="1.0" stroke-linecap="butt"/>
<line x1="720.3" y1="201.3" x2="720.3" y2="203.70000000000002" stroke="#000" stroke-width="1.0" stroke-linecap="butt"/>
<text x="586.8" y="176.5" font-size="8.6" font-weight="bold" text-anchor="start" transform="rotate(-90 586.8 176.5)" style="font-family:&quot;Liberation Sans&quot;,&quot;Noto Sans CJK SC&quot;,sans-serif">ICI<tspan font-size="7.2" dx="0.6">（s）</tspan></text>
<line x1="619.35" y1="145.3" x2="619.35" y2="158" stroke="#000" stroke-width="1.0" stroke-linecap="butt"/>
<line x1="615.725" y1="145.3" x2="622.975" y2="145.3" stroke="#000" stroke-width="1.0" stroke-linecap="butt"/>
<rect x="613.1" y="158" width="12.50" height="43.30" fill="#fff" stroke="#000" stroke-width="1.0"/>
<line x1="635.1" y1="135" x2="635.1" y2="149.6" stroke="#000" stroke-width="1.0" stroke-linecap="butt"/>
<line x1="631.33" y1="135" x2="638.87" y2="135" stroke="#000" stroke-width="1.0" stroke-linecap="butt"/>
<rect x="628.6" y="149.6" width="13.00" height="51.70" fill="#808080" stroke="#000" stroke-width="1.0"/>
<line x1="651.4" y1="138.4" x2="651.4" y2="160.3" stroke="#000" stroke-width="1.0" stroke-linecap="butt"/>
<line x1="647.688" y1="138.4" x2="655.112" y2="138.4" stroke="#000" stroke-width="1.0" stroke-linecap="butt"/>
<rect x="645" y="160.3" width="12.80" height="41.00" fill="#fff" stroke="#000" stroke-width="1.0"/>
<line x1="667.65" y1="142.9" x2="667.65" y2="160.3" stroke="#000" stroke-width="1.0" stroke-linecap="butt"/>
<line x1="663.967" y1="142.9" x2="671.333" y2="142.9" stroke="#000" stroke-width="1.0" stroke-linecap="butt"/>
<rect x="661.3" y="160.3" width="12.70" height="41.00" fill="#000" stroke="#000" stroke-width="1.0"/>
<line x1="696.1" y1="180.4" x2="696.1" y2="185.3" stroke="#000" stroke-width="1.0" stroke-linecap="butt"/>
<line x1="692.33" y1="180.4" x2="699.87" y2="180.4" stroke="#000" stroke-width="1.0" stroke-linecap="butt"/>
<rect x="689.6" y="185.3" width="13.00" height="16.00" fill="#fff" stroke="#000" stroke-width="1.0"/>
<line x1="712.35" y1="169.7" x2="712.35" y2="179.2" stroke="#000" stroke-width="1.0" stroke-linecap="butt"/>
<line x1="708.667" y1="169.7" x2="716.033" y2="169.7" stroke="#000" stroke-width="1.0" stroke-linecap="butt"/>
<rect x="706" y="179.2" width="12.70" height="22.10" fill="#808080" stroke="#000" stroke-width="1.0"/>
<line x1="728.6" y1="179.4" x2="728.6" y2="184" stroke="#000" stroke-width="1.0" stroke-linecap="butt"/>
<line x1="724.888" y1="179.4" x2="732.312" y2="179.4" stroke="#000" stroke-width="1.0" stroke-linecap="butt"/>
<rect x="722.2" y="184" width="12.80" height="17.30" fill="#fff" stroke="#000" stroke-width="1.0"/>
<line x1="745.15" y1="180" x2="745.15" y2="184.2" stroke="#000" stroke-width="1.0" stroke-linecap="butt"/>
<line x1="741.293" y1="180" x2="749.007" y2="180" stroke="#000" stroke-width="1.0" stroke-linecap="butt"/>
<rect x="738.5" y="184.2" width="13.30" height="17.10" fill="#000" stroke="#000" stroke-width="1.0"/>
<polyline points="619,140.6 619,128.4 635.3,128.4 635.3,132.8" fill="none" stroke="#1a1a1a" stroke-width="0.75"/>
<text x="627.65" y="130.4" font-size="15.5" font-weight="bold" text-anchor="middle">*</text>
<polyline points="650.6,136 650.6,130.7 667.5,130.7 667.5,140.6" fill="none" stroke="#1a1a1a" stroke-width="0.75"/>
<text x="659.05" y="128" font-size="8.4" font-weight="bold" text-anchor="middle">n.s.</text>
<polyline points="696,177.5 696,162.2 712.9,162.2 712.9,166.9" fill="none" stroke="#1a1a1a" stroke-width="0.75"/>
<text x="704.45" y="163.7" font-size="14.5" font-weight="bold" text-anchor="middle">***</text>
<polyline points="728.4,177.5 728.4,172.3 745.6,172.3 745.6,177.5" fill="none" stroke="#1a1a1a" stroke-width="0.75"/>
<text x="737.0" y="169.6" font-size="8.4" font-weight="bold" text-anchor="middle">n.s.</text>
<rect x="760.6" y="121.3" width="8.6" height="4.70" fill="#fff" stroke="#000" stroke-width="0.95"/>
<rect x="760.6" y="128.3" width="8.6" height="4.30" fill="#808080" stroke="#000" stroke-width="0.95"/>
<rect x="760.6" y="135.3" width="8.6" height="4.40" fill="#000" stroke="#000" stroke-width="0.95"/>
<text x="773.8" y="125.6" font-size="6.2" font-weight="bold" text-anchor="start">Saline</text>
<text x="773.8" y="132.6" font-size="6.2" font-weight="bold" text-anchor="start">GsMTx4</text>
<text x="773.8" y="139.5" font-size="6.2" font-weight="bold" text-anchor="start">DMSO</text>
<text x="642" y="211.3" font-size="6.3" font-weight="bold" text-anchor="middle">Naive</text>
<text x="719.3" y="211.3" font-size="6.3" font-weight="bold" text-anchor="middle">CYP-8d</text>
<line x1="604.3" y1="233.8" x2="604.3" y2="311.6" stroke="#000" stroke-width="1.0" stroke-linecap="butt"/>
<line x1="603.8" y1="311.1" x2="758.8" y2="311.1" stroke="#000" stroke-width="1.0" stroke-linecap="butt"/>
<line x1="601.9" y1="234.3" x2="604.3" y2="234.3" stroke="#000" stroke-width="1.0" stroke-linecap="butt"/>
<text x="601.4" y="236.316" font-size="5.6" font-weight="bold" text-anchor="end">0.25</text>
<line x1="601.9" y1="249.7" x2="604.3" y2="249.7" stroke="#000" stroke-width="1.0" stroke-linecap="butt"/>
<text x="601.4" y="251.71599999999998" font-size="5.6" font-weight="bold" text-anchor="end">0.20</text>
<line x1="601.9" y1="265" x2="604.3" y2="265" stroke="#000" stroke-width="1.0" stroke-linecap="butt"/>
<text x="601.4" y="267.016" font-size="5.6" font-weight="bold" text-anchor="end">0.15</text>
<line x1="601.9" y1="280.4" x2="604.3" y2="280.4" stroke="#000" stroke-width="1.0" stroke-linecap="butt"/>
<text x="601.4" y="282.416" font-size="5.6" font-weight="bold" text-anchor="end">0.10</text>
<line x1="601.9" y1="295.7" x2="604.3" y2="295.7" stroke="#000" stroke-width="1.0" stroke-linecap="butt"/>
<text x="601.4" y="297.716" font-size="5.6" font-weight="bold" text-anchor="end">0.05</text>
<line x1="601.9" y1="311.1" x2="604.3" y2="311.1" stroke="#000" stroke-width="1.0" stroke-linecap="butt"/>
<text x="601.4" y="313.11600000000004" font-size="5.6" font-weight="bold" text-anchor="end">0.00</text>
<line x1="681.8" y1="311.1" x2="681.8" y2="313.5" stroke="#000" stroke-width="1.0" stroke-linecap="butt"/>
<text x="586.6" y="308.4" font-size="6.5" font-weight="normal" text-anchor="start" transform="rotate(-90 586.6 308.4)" stroke="#000" stroke-width="0.3" style="font-family:&quot;Liberation Sans&quot;,&quot;Noto Sans CJK SC&quot;,sans-serif">Phasic Amplitude<tspan font-size="6.3">（g）</tspan></text>
<line x1="623.4" y1="243.1" x2="623.4" y2="258.3" stroke="#000" stroke-width="1.0" stroke-linecap="butt"/>
<line x1="615.9" y1="243.1" x2="630.9" y2="243.1" stroke="#000" stroke-width="1.0" stroke-linecap="butt"/>
<rect x="608.4" y="258.3" width="30.00" height="52.80" fill="#fff" stroke="#000" stroke-width="1.0"/>
<line x1="662.3499999999999" y1="263.4" x2="662.3499999999999" y2="275.4" stroke="#000" stroke-width="1.0" stroke-linecap="butt"/>
<line x1="654.8499999999999" y1="263.4" x2="669.8499999999999" y2="263.4" stroke="#000" stroke-width="1.0" stroke-linecap="butt"/>
<rect x="647.4" y="275.4" width="29.90" height="35.70" fill="#808080" stroke="#000" stroke-width="1.0"/>
<line x1="700.7" y1="239.8" x2="700.7" y2="251.6" stroke="#000" stroke-width="1.0" stroke-linecap="butt"/>
<line x1="693.2" y1="239.8" x2="708.2" y2="239.8" stroke="#000" stroke-width="1.0" stroke-linecap="butt"/>
<rect x="685.7" y="251.6" width="30.00" height="59.50" fill="#fff" stroke="#000" stroke-width="1.0"/>
<line x1="739.3" y1="238" x2="739.3" y2="251" stroke="#000" stroke-width="1.0" stroke-linecap="butt"/>
<line x1="731.8" y1="238" x2="746.8" y2="238" stroke="#000" stroke-width="1.0" stroke-linecap="butt"/>
<rect x="724.2" y="251" width="30.20" height="60.10" fill="#000" stroke="#000" stroke-width="1.0"/>
<polyline points="623.8,240.3 623.8,235.6 662.4,235.6 662.4,259.6" fill="none" stroke="#1a1a1a" stroke-width="0.75"/>
<text x="643.0999999999999" y="236.9" font-size="14.5" font-weight="bold" text-anchor="middle">***</text>
<polyline points="700.3,236 700.3,232.3 740.6,232.3 740.6,235.6" fill="none" stroke="#1a1a1a" stroke-width="0.75"/>
<text x="720.45" y="230.1" font-size="8.4" font-weight="bold" text-anchor="middle">n.s.</text>
<rect x="759.4" y="225.7" width="8.6" height="4.40" fill="#fff" stroke="#000" stroke-width="0.95"/>
<rect x="759.4" y="232.5" width="8.6" height="4.50" fill="#808080" stroke="#000" stroke-width="0.95"/>
<rect x="759.4" y="239.5" width="8.6" height="4.50" fill="#000" stroke="#000" stroke-width="0.95"/>
<text x="772.8" y="229.8" font-size="6.6" font-weight="normal" text-anchor="start" stroke="#000" stroke-width="0.25">Kreb's</text>
<text x="772.8" y="236.8" font-size="6.6" font-weight="normal" text-anchor="start" stroke="#000" stroke-width="0.25" textLength="23.6" lengthAdjust="spacingAndGlyphs">GsMTx4</text>
<text x="772.8" y="243.7" font-size="6.6" font-weight="normal" text-anchor="start" stroke="#000" stroke-width="0.25">DMSO</text>
<text x="681.8" y="320.5" font-size="6.3" font-weight="bold" text-anchor="middle">Naive</text>
<line x1="601" y1="334.5" x2="601" y2="414.6" stroke="#000" stroke-width="1.0" stroke-linecap="butt"/>
<line x1="600.5" y1="414.1" x2="759.7" y2="414.1" stroke="#000" stroke-width="1.0" stroke-linecap="butt"/>
<line x1="598.6" y1="335" x2="601" y2="335" stroke="#000" stroke-width="1.0" stroke-linecap="butt"/>
<text x="598.1" y="337.016" font-size="5.6" font-weight="bold" text-anchor="end">0.8</text>
<line x1="598.6" y1="355" x2="601" y2="355" stroke="#000" stroke-width="1.0" stroke-linecap="butt"/>
<text x="598.1" y="357.016" font-size="5.6" font-weight="bold" text-anchor="end">0.6</text>
<line x1="598.6" y1="374.75" x2="601" y2="374.75" stroke="#000" stroke-width="1.0" stroke-linecap="butt"/>
<text x="598.1" y="376.766" font-size="5.6" font-weight="bold" text-anchor="end">0.4</text>
<line x1="598.6" y1="394.4" x2="601" y2="394.4" stroke="#000" stroke-width="1.0" stroke-linecap="butt"/>
<text x="598.1" y="396.416" font-size="5.6" font-weight="bold" text-anchor="end">0.2</text>
<line x1="598.6" y1="414.1" x2="601" y2="414.1" stroke="#000" stroke-width="1.0" stroke-linecap="butt"/>
<text x="598.1" y="416.11600000000004" font-size="5.6" font-weight="bold" text-anchor="end">0.0</text>
<line x1="680.6" y1="414.1" x2="680.6" y2="416.5" stroke="#000" stroke-width="1.0" stroke-linecap="butt"/>
<text x="586" y="410.8" font-size="6.5" font-weight="normal" text-anchor="start" transform="rotate(-90 586 410.8)" stroke="#000" stroke-width="0.3" style="font-family:&quot;Liberation Sans&quot;,&quot;Noto Sans CJK SC&quot;,sans-serif">Phasic Amplitude<tspan font-size="6.3">（g）</tspan></text>
<line x1="621.1" y1="352.4" x2="621.1" y2="377.4" stroke="#000" stroke-width="1.0" stroke-linecap="butt"/>
<line x1="613.35" y1="352.4" x2="628.85" y2="352.4" stroke="#000" stroke-width="1.0" stroke-linecap="butt"/>
<rect x="605.6" y="377.4" width="31.00" height="36.70" fill="#fff" stroke="#000" stroke-width="1.0"/>
<line x1="660.7" y1="380.4" x2="660.7" y2="394" stroke="#000" stroke-width="1.0" stroke-linecap="butt"/>
<line x1="652.95" y1="380.4" x2="668.45" y2="380.4" stroke="#000" stroke-width="1.0" stroke-linecap="butt"/>
<rect x="645.4" y="394" width="30.60" height="20.10" fill="#808080" stroke="#000" stroke-width="1.0"/>
<line x1="700.2" y1="364.5" x2="700.2" y2="375.3" stroke="#000" stroke-width="1.0" stroke-linecap="butt"/>
<line x1="692.45" y1="364.5" x2="707.95" y2="364.5" stroke="#000" stroke-width="1.0" stroke-linecap="butt"/>
<rect x="684.7" y="375.3" width="31.00" height="38.80" fill="#fff" stroke="#000" stroke-width="1.0"/>
<line x1="740.0" y1="365" x2="740.0" y2="375.7" stroke="#000" stroke-width="1.0" stroke-linecap="butt"/>
<line x1="732.25" y1="365" x2="747.75" y2="365" stroke="#000" stroke-width="1.0" stroke-linecap="butt"/>
<rect x="724.4" y="375.7" width="31.20" height="38.40" fill="#000" stroke="#000" stroke-width="1.0"/>
<polyline points="620.6,349.6 620.6,344.4 661.5,344.4 661.5,377.8" fill="none" stroke="#1a1a1a" stroke-width="0.75"/>
<text x="641.05" y="346" font-size="14.5" font-weight="bold" text-anchor="middle">***</text>
<polyline points="700,362.2 700,356.6 740.6,356.6 740.6,362.2" fill="none" stroke="#1a1a1a" stroke-width="0.75"/>
<text x="720.3" y="353.3" font-size="8.4" font-weight="bold" text-anchor="middle">n.s.</text>
<rect x="761" y="333" width="8.6" height="4.40" fill="#fff" stroke="#000" stroke-width="0.95"/>
<rect x="761" y="340.2" width="8.6" height="4.30" fill="#808080" stroke="#000" stroke-width="0.95"/>
<rect x="761" y="347.5" width="8.6" height="4.50" fill="#000" stroke="#000" stroke-width="0.95"/>
<text x="774" y="337.3" font-size="6.6" font-weight="normal" text-anchor="start" stroke="#000" stroke-width="0.25">Kreb's</text>
<text x="774" y="344.5" font-size="6.6" font-weight="normal" text-anchor="start" stroke="#000" stroke-width="0.25" textLength="23.6" lengthAdjust="spacingAndGlyphs">GsMTx4</text>
<text x="774" y="351.6" font-size="6.6" font-weight="normal" text-anchor="start" stroke="#000" stroke-width="0.25">DMSO</text>
<text x="680.5" y="424.3" font-size="6.3" font-weight="bold" text-anchor="middle">CYP-8d</text>
<line x1="601" y1="443.9" x2="601" y2="524.3" stroke="#000" stroke-width="1.0" stroke-linecap="butt"/>
<line x1="600.5" y1="523.8" x2="761.6" y2="523.8" stroke="#000" stroke-width="1.0" stroke-linecap="butt"/>
<line x1="598.6" y1="444.4" x2="601" y2="444.4" stroke="#000" stroke-width="1.0" stroke-linecap="butt"/>
<text x="598.1" y="446.416" font-size="5.6" font-weight="bold" text-anchor="end">0.6</text>
<line x1="598.6" y1="470.8" x2="601" y2="470.8" stroke="#000" stroke-width="1.0" stroke-linecap="butt"/>
<text x="598.1" y="472.81600000000003" font-size="5.6" font-weight="bold" text-anchor="end">0.4</text>
<line x1="598.6" y1="497.1" x2="601" y2="497.1" stroke="#000" stroke-width="1.0" stroke-linecap="butt"/>
<text x="598.1" y="499.11600000000004" font-size="5.6" font-weight="bold" text-anchor="end">0.2</text>
<line x1="598.6" y1="523.4" x2="601" y2="523.4" stroke="#000" stroke-width="1.0" stroke-linecap="butt"/>
<text x="598.1" y="525.4159999999999" font-size="5.6" font-weight="bold" text-anchor="end">0.0</text>
<text x="586.6" y="520.8" font-size="6.95" font-weight="normal" text-anchor="start" transform="rotate(-90 586.6 520.8)" stroke="#000" stroke-width="0.3" style="font-family:&quot;Liberation Sans&quot;,&quot;Noto Sans CJK SC&quot;,sans-serif">Phasic Amplitude<tspan font-size="6.6">（g）</tspan></text>
<line x1="620.4000000000001" y1="490.4" x2="620.4000000000001" y2="498.4" stroke="#000" stroke-width="1.0" stroke-linecap="butt"/>
<line x1="615.6440000000001" y1="490.4" x2="625.1560000000001" y2="490.4" stroke="#000" stroke-width="1.0" stroke-linecap="butt"/>
<rect x="612.2" y="498.4" width="16.40" height="25.40" fill="#fff" stroke="#000" stroke-width="1.0"/>
<line x1="641.25" y1="502.2" x2="641.25" y2="507.2" stroke="#000" stroke-width="1.0" stroke-linecap="butt"/>
<line x1="636.3489999999999" y1="502.2" x2="646.1510000000001" y2="502.2" stroke="#000" stroke-width="1.0" stroke-linecap="butt"/>
<rect x="632.8" y="507.2" width="16.90" height="16.60" fill="#808080" stroke="#000" stroke-width="1.0"/>
<line x1="662.35" y1="502.7" x2="662.35" y2="507.8" stroke="#000" stroke-width="1.0" stroke-linecap="butt"/>
<line x1="657.5070000000001" y1="502.7" x2="667.193" y2="502.7" stroke="#000" stroke-width="1.0" stroke-linecap="butt"/>
<rect x="654" y="507.8" width="16.70" height="16.00" fill="#000" stroke="#000" stroke-width="1.0"/>
<line x1="699.7" y1="456.4" x2="699.7" y2="468.4" stroke="#000" stroke-width="1.0" stroke-linecap="butt"/>
<line x1="694.8860000000001" y1="456.4" x2="704.514" y2="456.4" stroke="#000" stroke-width="1.0" stroke-linecap="butt"/>
<rect x="691.4" y="468.4" width="16.60" height="55.40" fill="#fff" stroke="#000" stroke-width="1.0"/>
<line x1="720.5999999999999" y1="485.3" x2="720.5999999999999" y2="492.4" stroke="#000" stroke-width="1.0" stroke-linecap="butt"/>
<line x1="715.8439999999999" y1="485.3" x2="725.3559999999999" y2="485.3" stroke="#000" stroke-width="1.0" stroke-linecap="butt"/>
<rect x="712.4" y="492.4" width="16.40" height="31.40" fill="#808080" stroke="#000" stroke-width="1.0"/>
<line x1="741.7" y1="485.7" x2="741.7" y2="493.2" stroke="#000" stroke-width="1.0" stroke-linecap="butt"/>
<line x1="736.8860000000001" y1="485.7" x2="746.514" y2="485.7" stroke="#000" stroke-width="1.0" stroke-linecap="butt"/>
<rect x="733.4" y="493.2" width="16.60" height="30.60" fill="#000" stroke="#000" stroke-width="1.0"/>
<polyline points="620.3,487.2 620.3,482.5 639.4,482.5 639.4,499.4" fill="none" stroke="#1a1a1a" stroke-width="0.75"/>
<text x="629.8499999999999" y="485" font-size="14.5" font-weight="bold" text-anchor="middle">***</text>
<polyline points="643.7,498.4 643.7,492.8 662.3,492.8 662.3,498.4" fill="none" stroke="#1a1a1a" stroke-width="0.75"/>
<text x="653.0" y="489.7" font-size="8.4" font-weight="bold" text-anchor="middle">n.s.</text>
<polyline points="699.7,453.4 699.7,448.4 718.8,448.4 718.8,482" fill="none" stroke="#1a1a1a" stroke-width="0.75"/>
<text x="709.25" y="451.6" font-size="14.5" font-weight="bold" text-anchor="middle">***</text>
<polyline points="723.1,482 723.1,475 742.8,475 742.8,482" fill="none" stroke="#1a1a1a" stroke-width="0.75"/>
<text x="732.95" y="471.7" font-size="8.4" font-weight="bold" text-anchor="middle">n.s.</text>
<rect x="761.6" y="442.8" width="8.6" height="4.50" fill="#fff" stroke="#000" stroke-width="0.95"/>
<rect x="761.6" y="449.8" width="8.6" height="4.60" fill="#808080" stroke="#000" stroke-width="0.95"/>
<rect x="761.6" y="457.2" width="8.6" height="4.40" fill="#000" stroke="#000" stroke-width="0.95"/>
<text x="774.8" y="447" font-size="6.7" font-weight="normal" text-anchor="start" stroke="#000" stroke-width="0.25">Kreb's</text>
<text x="774.8" y="454.2" font-size="6.7" font-weight="normal" text-anchor="start" stroke="#000" stroke-width="0.25">Glivec</text>
<text x="774.8" y="461.4" font-size="6.7" font-weight="normal" text-anchor="start" stroke="#000" stroke-width="0.25" textLength="23.6" lengthAdjust="spacingAndGlyphs">GsMTx4</text>
<text x="641" y="534" font-size="7" font-weight="normal" text-anchor="middle" stroke="#000" stroke-width="0.2">Naive</text>
<text x="719" y="534" font-size="7" font-weight="normal" text-anchor="middle" stroke="#000" stroke-width="0.2">CYP-8d</text>
</svg></body></html>
